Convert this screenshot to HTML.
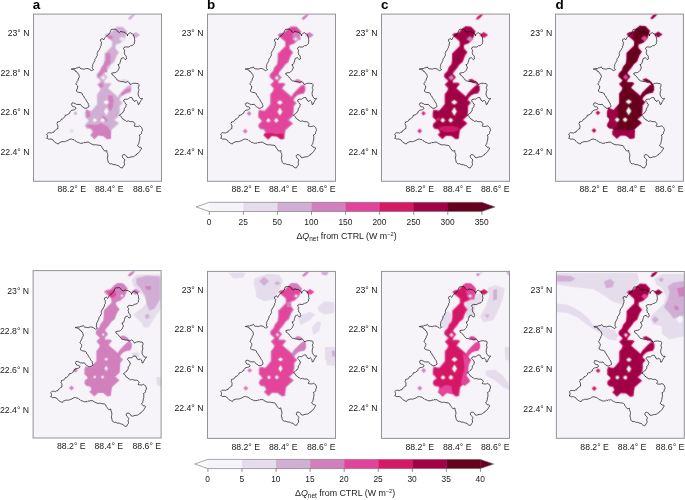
<!DOCTYPE html>
<html><head><meta charset="utf-8"><title>Figure</title>
<style>
html,body{margin:0;padding:0;background:#fff;}
body{width:685px;height:500px;overflow:hidden;}
svg{display:block;}
text{font-family:"Liberation Sans",sans-serif;font-size:8.7px;fill:#1a1a1a;}
.tk{font-size:8.4px;fill:#222;}
.ct{font-size:8.85px;fill:#1a1a1a;}
.pl{font-size:13.4px;font-weight:bold;fill:#000;}
</style></head>
<body>
<svg width="685" height="500" viewBox="0 0 685 500">
<rect width="685" height="500" fill="#fff"/>
<defs><filter id="bl" x="-5%" y="-5%" width="110%" height="110%"><feConvolveMatrix order="3" kernelMatrix="1 2 1 2 18 2 1 2 1" divisor="30" edgeMode="none" preserveAlpha="false"/></filter></defs>
<g transform="translate(33.5,14.1)">
<clipPath id="c00"><rect x="0" y="0" width="128.0" height="167.2"/></clipPath>
<rect x="0" y="0" width="128.0" height="167.2" fill="#f7f4f9"/>
<g clip-path="url(#c00)"><g filter="url(#bl)" transform="translate(-0.1,0.2)">
<path d="M80.4,14.6 L76.9,18.1 L72.8,18.7 L70.5,20.5 L73.4,23.4 L76.3,25.7 L78.1,27.5 L78.1,31.6 L74.6,35.1 L70.5,39.2 L70.5,44.8 L69.9,49.5 L67.0,53.0 L65.8,56.5 L62.9,59.4 L62.3,62.3 L63.8,64.1 L66.4,66.4 L65.8,67.6 L63.1,69.9 L63.8,71.1 L66.4,74.0 L65.8,76.3 L63.1,79.8 L63.1,89.6 L60.3,93.1 L57.7,96.0 L54.8,95.7 L52.1,95.0 L51.1,98.3 L51.1,103.0 L53.6,105.3 L54.5,106.7 L51.5,109.4 L51.1,112.3 L53.1,114.7 L56.8,115.3 L58.3,118.2 L56.0,120.5 L61.0,125.2 L64.7,121.7 L70.0,121.9 L74.1,125.2 L77.6,124.6 L78.2,119.3 L78.8,115.8 L82.3,112.6 L86.3,109.1 L83.7,106.7 L82.0,105.6 L86.3,101.6 L86.9,96.0 L86.9,91.9 L89.8,88.4 L86.8,85.7 L87.4,83.9 L90.3,81.0 L93.3,79.8 L96.8,79.3 L98.5,76.3 L98.5,72.2 L96.8,69.9 L93.9,71.1 L90.3,74.6 L86.3,78.7 L84.4,81.8 L81.6,79.3 L78.1,76.3 L75.5,74.0 L76.3,72.6 L78.7,69.9 L76.9,68.2 L71.7,68.2 L71.7,66.4 L72.8,65.2 L74.8,62.9 L71.7,59.4 L72.8,57.6 L75.8,54.1 L78.1,50.6 L81.6,47.7 L82.5,45.0 L83.9,41.5 L86.3,38.0 L82.8,33.9 L82.8,31.0 L87.4,29.2 L91.5,25.2 L93.3,20.5 L94.4,17.0 L89.8,12.1 L83.9,11.7Z" fill="#e5dcec" fill-rule="evenodd"/>
<path d="M81.0,15.3 L77.3,18.9 L73.2,19.6 L71.9,20.6 L74.0,22.7 L76.9,25.0 L79.0,27.1 L79.0,32.0 L75.2,35.7 L71.4,39.6 L71.4,44.9 L70.8,49.9 L67.8,53.4 L66.6,57.0 L63.7,59.8 L63.3,62.1 L64.4,63.5 L67.5,66.2 L66.5,68.2 L64.3,70.1 L64.5,70.6 L67.4,73.8 L66.6,76.7 L64.0,80.1 L64.0,89.9 L61.0,93.7 L58.1,96.9 L54.6,96.6 L52.7,96.1 L52.0,98.4 L52.0,102.6 L54.3,104.7 L55.7,106.9 L52.3,109.8 L52.0,112.0 L53.6,113.9 L57.4,114.5 L59.4,118.4 L57.3,120.5 L61.0,124.0 L64.4,120.8 L70.3,121.0 L74.3,124.2 L76.8,123.8 L77.3,119.2 L78.0,115.3 L81.7,111.9 L85.0,109.1 L83.1,107.4 L80.5,105.7 L85.4,101.2 L86.0,96.0 L86.0,91.6 L88.6,88.5 L85.8,86.0 L86.6,83.4 L89.8,80.2 L93.1,78.9 L96.2,78.5 L97.6,76.1 L97.6,72.5 L96.5,71.0 L94.4,71.9 L90.9,75.2 L87.0,79.3 L84.6,83.2 L81.0,80.0 L77.5,77.0 L74.4,74.2 L75.6,72.1 L77.4,70.0 L76.5,69.1 L70.8,69.1 L70.8,66.0 L72.1,64.6 L73.6,62.9 L70.6,59.5 L72.1,57.1 L75.1,53.6 L77.4,50.0 L80.8,47.2 L81.7,44.7 L83.1,41.1 L85.2,38.1 L81.9,34.2 L81.9,30.4 L86.9,28.4 L90.7,24.7 L92.4,20.2 L93.4,17.2 L89.4,13.0 L84.2,12.6Z" fill="#d1afd5" fill-rule="evenodd"/>
<path d="M87.2,66.0 L90.0,64.6 L93.0,65.3 L95.0,67.5 L94.6,68.7 L91.5,68.5 L88.5,67.6Z" fill="#e5dcec"/>
<path d="M98.0,20.6 L102.4,17.6 L106.8,20.6 L102.4,23.6Z" fill="#d1afd5"/>
<path d="M39.7,99.0 L42.1,96.6 L44.5,99.0 L42.1,101.4Z" fill="#e5dcec"/>
<path d="M35.7,116.8 L38.2,114.3 L40.7,116.8 L38.2,119.3Z" fill="#e5dcec"/>
<path d="M94.3,4.6 L96.8,1.6 L99.5,0.0 L102.0,0.0 L99.2,3.2 L96.6,5.4Z" fill="#d1afd5"/>
<path d="M40.3,99.0 L42.1,97.2 L43.9,99.0 L42.1,100.8Z" fill="#d1afd5"/>
<path d="M73.6,21.0 L78.8,21.6 L80.0,23.9 L77.1,25.1 L74.2,23.4Z" fill="#d280bd"/>
<path d="M72.4,39.1 L76.5,38.5 L77.3,43.2 L76.8,49.1 L73.6,49.6 L72.4,44.4Z" fill="#d280bd"/>
<path d="M68.3,53.1 L73.0,52.6 L74.2,58.0 L67.7,58.0Z" fill="#d280bd"/>
<path d="M71.8,46.0 L77.1,46.0 L76.8,49.5 L73.0,52.4 L71.2,57.1 L67.7,61.2 L64.8,63.5 L64.0,60.6 L66.6,56.5 L68.9,52.4Z" fill="#d280bd"/>
<path d="M64.8,70.5 L68.9,67.6 L70.3,72.3 L67.1,73.8Z" fill="#d280bd"/>
<path d="M74.7,82.4 L78.0,81.6 L80.0,85.7 L79.6,92.7 L77.3,96.5 L74.7,92.7 L75.9,87.5Z" fill="#d280bd"/>
<path d="M87.6,79.3 L91.1,75.4 L96.9,73.4 L97.5,76.6 L92.3,79.3 L88.8,81.6Z" fill="#d280bd"/>
<path d="M52.8,96.2 L56.1,96.5 L57.2,102.3 L53.5,103.5Z" fill="#d280bd"/>
<path d="M75.0,81.0 L79.3,81.0 L80.2,86.8 L79.0,93.8 L76.6,97.4 L75.0,92.1Z" fill="#d280bd"/>
<path d="M68.2,100.9 L71.7,102.6 L74.7,106.1 L72.0,107.3 L69.4,104.4Z" fill="#d280bd"/>
<path d="M52.5,95.2 L54.8,95.6 L56.0,102.0 L53.1,102.7Z" fill="#d280bd"/>
<path d="M53.1,110.8 L57.7,110.2 L63.6,110.8 L67.1,109.0 L70.6,110.2 L74.7,112.5 L77.6,117.2 L77.6,124.4 L73.5,124.9 L70.0,121.9 L64.7,121.3 L61.2,124.9 L57.1,121.3 L60.1,117.2 L57.7,114.3 L53.6,113.1Z" fill="#d280bd"/>
<path d="M70.0,88.0 L72.9,85.8 L75.8,88.0 L72.9,90.2Z" fill="#f7f4f9"/>
<path d="M70.5,97.2 L72.9,93.3 L75.3,97.2 L72.9,101.1Z" fill="#f7f4f9"/>
<path d="M59.2,105.9 L61.4,103.7 L63.6,105.9 L61.4,108.1Z" fill="#f7f4f9"/>
<path d="M67.0,105.9 L69.3,103.6 L71.6,105.9 L69.3,108.2Z" fill="#f7f4f9"/>
<path d="M85.2,24.6 L88.6,22.0 L92.0,24.6 L88.6,27.2Z" fill="#e5dcec"/>
<path d="M87.1,24.6 L88.6,23.4 L90.1,24.6 L88.6,25.8Z" fill="#f7f4f9"/>
<path d="M67.3,63.4 L69.9,60.8 L72.5,63.4 L69.9,66.0Z" fill="#e5dcec"/>
<path d="M68.6,63.4 L69.9,62.1 L71.2,63.4 L69.9,64.7Z" fill="#f7f4f9"/>
</g>
<path d="M76.8,18.3 L76.9,17.3 L77.3,16.3 L77.7,15.5 L78.5,15.1 L79.8,15.2 L81.2,15.1 L82.3,15.1 L83.1,15.9 L83.7,16.8 L84.3,17.7 L85.1,18.0 L85.8,18.6 L86.5,17.7 L87.6,17.4 L88.4,17.7 L89.3,17.9 L90.6,18.0 L91.7,18.8 L92.5,19.3 L93.2,19.8 L94.0,20.7 L94.0,21.8 L94.3,20.4 L95.2,19.4 L96.0,18.9 L96.9,18.6 L97.7,19.3 L98.7,19.4 L99.7,20.4 L100.2,21.8 L100.8,22.9 L101.0,24.1 L101.1,25.6 L101.4,27.0 L100.8,28.1 L101.0,29.4 L100.1,30.2 L99.3,31.1 L98.3,31.6 L97.1,31.5 L96.3,32.3 L94.9,33.0 L93.4,32.9 L91.9,32.8 L90.5,33.4 L89.9,34.6 L90.6,35.2 L91.1,36.1 L91.1,37.2 L90.5,38.1 L91.1,39.2 L91.1,40.5 L92.1,41.2 L92.8,42.2 L92.7,43.2 L93.2,44.0 L92.7,45.0 L91.7,45.5 L90.9,44.5 L89.9,43.6 L88.7,43.9 L87.6,44.5 L87.4,45.7 L87.0,46.9 L86.7,48.0 L86.4,49.2 L85.6,50.2 L84.3,50.6 L85.1,51.1 L85.2,52.1 L85.8,52.9 L85.8,53.9 L85.1,55.0 L84.7,56.2 L83.8,57.1 L82.9,58.0 L81.8,58.5 L80.6,58.6 L79.4,58.8 L78.2,59.1 L78.5,60.0 L78.8,60.9 L80.1,61.6 L81.2,62.6 L81.9,63.8 L83.0,64.7 L83.7,65.9 L84.7,66.8 L86.2,66.9 L87.6,67.4 L88.6,67.5 L89.6,67.6 L90.6,67.6 L91.3,68.2 L92.3,68.2 L93.3,67.9 L94.1,67.3 L95.1,67.9 L95.8,68.8 L96.4,70.0 L97.6,70.5 L98.1,69.7 L99.0,69.4 L100.3,69.2 L101.7,69.1 L103.1,69.5 L104.6,69.4 L105.5,70.5 L105.5,72.0 L104.8,73.4 L104.9,74.4 L105.5,75.3 L105.2,76.4 L104.8,77.8 L104.6,79.3 L104.7,80.8 L105.2,82.2 L105.9,83.3 L106.7,84.3 L107.9,84.6 L109.0,84.3 L108.7,85.1 L108.1,85.7 L107.4,86.5 L106.9,87.5 L106.2,88.8 L105.7,90.1 L104.6,90.4 L104.4,88.9 L104.0,87.5 L103.4,86.9 L102.8,86.3 L101.8,86.7 L101.1,87.5 L100.7,86.6 L99.7,86.3 L99.1,85.0 L98.5,83.6 L97.0,83.4 L96.0,83.7 L95.2,84.3 L94.2,85.1 L92.9,85.1 L91.7,85.1 L90.6,85.5 L90.0,86.9 L90.8,87.8 L91.7,88.6 L92.0,89.8 L93.1,90.4 L92.4,91.5 L92.3,92.7 L91.6,93.7 L90.6,94.5 L90.7,95.7 L90.6,96.8 L89.7,97.5 L89.3,98.6 L88.2,99.1 L87.5,99.8 L86.9,100.7 L85.9,101.2 L86.9,101.7 L87.7,102.5 L88.2,103.5 L88.8,104.5 L90.0,104.9 L90.6,105.9 L91.9,106.4 L92.9,107.3 L94.0,107.0 L95.2,106.8 L96.3,107.5 L97.6,107.6 L99.1,107.5 L100.5,108.2 L101.1,109.0 L101.7,109.9 L101.1,110.8 L100.5,111.7 L101.6,112.3 L102.8,112.3 L103.9,112.4 L104.9,112.2 L105.8,111.7 L107.1,112.4 L108.1,113.4 L108.5,114.4 L108.8,115.4 L109.0,116.4 L108.4,117.3 L108.0,118.2 L108.1,119.3 L107.1,120.4 L105.8,121.0 L106.3,122.1 L106.3,123.4 L106.3,124.9 L105.8,126.3 L105.8,127.5 L105.4,128.6 L105.2,129.8 L104.5,130.6 L104.0,131.5 L105.1,132.2 L105.8,133.3 L107.1,133.2 L108.1,133.9 L107.6,135.1 L106.9,136.2 L106.1,137.5 L105.2,138.6 L104.4,139.3 L103.3,139.8 L102.8,140.9 L101.7,141.3 L100.9,142.0 L99.9,142.6 L98.7,142.7 L97.5,142.8 L96.4,143.2 L94.9,143.6 L93.5,143.2 L92.9,141.8 L91.7,140.9 L90.6,140.5 L89.4,140.7 L88.8,141.5 L88.8,142.6 L89.0,143.4 L89.7,144.0 L90.6,144.8 L91.3,145.8 L91.0,147.0 L90.5,148.1 L91.0,149.5 L90.8,151.0 L89.9,152.1 L89.3,153.4 L88.5,153.9 L87.6,153.6 L86.6,153.2 L85.8,152.5 L85.2,151.6 L83.9,151.5 L82.8,151.0 L81.7,150.5 L80.4,150.6 L79.3,150.3 L78.2,149.6 L76.9,149.8 L75.7,149.3 L74.8,148.3 L74.5,146.9 L74.2,145.6 L73.8,144.3 L74.1,142.9 L74.4,141.7 L74.2,140.6 L74.1,139.4 L73.5,138.5 L73.4,137.5 L73.3,136.4 L72.3,136.8 L71.2,137.0 L70.3,135.9 L69.5,134.7 L68.6,133.7 L68.3,132.4 L67.5,131.7 L66.5,131.2 L65.4,131.2 L64.2,131.0 L63.1,130.8 L61.9,130.6 L60.7,130.8 L59.5,130.6 L58.4,130.0 L57.4,129.6 L56.4,129.0 L55.5,128.3 L54.5,127.9 L53.5,128.3 L52.5,127.9 L51.7,128.7 L50.4,128.3 L49.6,129.1 L48.4,129.0 L47.2,129.3 L46.1,128.9 L45.0,128.3 L43.6,128.1 L42.6,127.1 L41.4,126.5 L40.5,125.6 L39.1,125.4 L37.9,124.9 L36.7,125.1 L35.5,125.5 L34.5,126.4 L33.2,126.8 L32.1,127.2 L30.9,127.6 L29.7,127.5 L28.5,127.5 L27.4,128.0 L26.2,128.3 L25.4,128.9 L25.1,129.8 L23.8,129.5 L22.7,128.9 L21.4,128.2 L20.4,127.1 L19.7,126.0 L18.6,125.4 L17.5,124.9 L16.3,124.9 L15.1,125.1 L14.2,124.4 L13.1,124.2 L13.8,123.2 L14.0,121.9 L13.7,120.9 L13.1,120.1 L14.0,119.2 L15.1,118.6 L16.1,118.7 L17.1,118.7 L18.1,119.0 L19.1,118.2 L20.4,118.1 L20.9,116.8 L22.1,116.0 L23.2,115.0 L24.5,114.3 L24.3,113.2 L24.5,112.0 L24.1,110.7 L23.3,109.6 L24.0,108.9 L23.9,107.9 L25.0,107.6 L26.2,107.3 L27.4,106.3 L28.0,104.9 L29.3,104.7 L30.3,103.8 L31.3,102.8 L31.5,101.4 L32.6,101.0 L33.8,100.9 L34.4,100.1 L35.3,99.5 L36.2,99.1 L36.5,97.8 L37.3,96.8 L38.4,96.1 L39.7,95.9 L40.9,95.6 L42.0,95.0 L42.4,94.2 L42.0,93.3 L41.1,92.7 L40.1,92.7 L39.1,92.4 L38.5,91.3 L37.7,90.3 L38.3,89.7 L38.5,88.9 L40.0,88.8 L41.4,89.4 L42.3,89.8 L43.2,90.4 L44.3,90.3 L45.5,90.5 L46.7,90.1 L47.4,91.2 L48.4,92.1 L49.2,92.8 L50.2,93.2 L50.8,94.1 L52.3,94.2 L53.7,93.8 L54.5,93.1 L55.4,92.7 L55.4,91.4 L54.8,90.3 L54.6,89.0 L53.7,88.0 L53.0,86.9 L52.5,85.7 L51.6,84.6 L50.8,83.3 L50.2,81.9 L49.0,81.0 L48.8,79.5 L47.7,78.8 L46.5,78.4 L45.2,78.3 L44.1,77.9 L43.0,77.2 L43.0,76.0 L43.6,74.9 L44.1,74.0 L44.2,72.9 L44.1,71.9 L43.0,70.9 L42.4,69.6 L43.3,68.6 L43.6,67.3 L44.5,66.3 L44.7,64.9 L45.4,63.8 L45.9,62.6 L45.5,61.5 L45.3,60.3 L44.6,59.3 L43.5,58.6 L43.0,57.4 L41.8,57.2 L41.3,55.8 L40.1,55.6 L38.9,55.2 L37.7,55.0 L39.2,54.7 L40.6,54.4 L41.7,54.6 L42.6,53.9 L43.6,53.8 L44.8,53.5 L45.7,52.7 L46.4,53.9 L47.6,54.8 L48.6,54.7 L49.6,54.8 L50.6,55.2 L51.7,54.6 L52.9,54.4 L54.4,54.5 L55.8,55.0 L56.6,55.7 L57.5,56.0 L58.2,56.8 L59.1,56.1 L60.1,55.6 L59.1,54.6 L58.7,53.3 L59.3,52.4 L59.0,51.3 L59.3,50.3 L59.8,49.3 L60.4,48.4 L60.8,47.4 L61.4,46.5 L61.3,45.4 L61.7,44.5 L62.8,43.5 L63.2,42.2 L64.0,41.0 L63.8,40.1 L63.6,39.3 L64.2,38.3 L64.4,37.1 L65.4,36.4 L65.9,35.4 L66.3,34.3 L67.1,33.4 L66.9,32.2 L67.8,31.1 L67.7,29.9 L67.7,29.0 L68.3,28.2 L67.5,27.6 L66.8,27.0 L67.1,26.2 L67.1,25.3 L68.0,24.9 L68.9,24.5 L69.6,25.1 L70.1,25.9 L70.8,24.7 L71.5,23.5 L72.3,22.7 L73.0,21.8 L74.3,21.2 L75.3,20.2 L75.8,19.0Z" fill="none" stroke="#000" stroke-width="0.66" stroke-linejoin="round"/>
</g>
<rect x="0" y="0" width="128.0" height="167.2" fill="none" stroke="#939297" stroke-width="1.0"/>
</g>
<text x="29.5" y="36.0" text-anchor="end">23° N</text>
<text x="29.5" y="75.6" text-anchor="end">22.8° N</text>
<text x="29.5" y="115.2" text-anchor="end">22.6° N</text>
<text x="29.5" y="154.6" text-anchor="end">22.4° N</text>
<text x="86.0" y="191.7" text-anchor="end">88.2° E</text>
<text x="123.5" y="191.7" text-anchor="end">88.4° E</text>
<text x="161.5" y="191.7" text-anchor="end">88.6° E</text>
<g transform="translate(207.5,14.1)">
<clipPath id="c10"><rect x="0" y="0" width="128.0" height="167.2"/></clipPath>
<rect x="0" y="0" width="128.0" height="167.2" fill="#f7f4f9"/>
<g clip-path="url(#c10)"><g filter="url(#bl)" transform="translate(-0.5,0.4)">
<path d="M80.4,14.6 L76.9,18.1 L72.8,18.7 L70.5,20.5 L73.4,23.4 L76.3,25.7 L78.1,27.5 L78.1,31.6 L74.6,35.1 L70.5,39.2 L70.5,44.8 L69.9,49.5 L67.0,53.0 L65.8,56.5 L62.9,59.4 L62.3,62.3 L63.8,64.1 L66.4,66.4 L65.8,67.6 L63.1,69.9 L63.8,71.1 L66.4,74.0 L65.8,76.3 L63.1,79.8 L63.1,89.6 L60.3,93.1 L57.7,96.0 L54.8,95.7 L52.1,95.0 L51.1,98.3 L51.1,103.0 L53.6,105.3 L54.5,106.7 L51.5,109.4 L51.1,112.3 L53.1,114.7 L56.8,115.3 L58.3,118.2 L56.0,120.5 L61.0,125.2 L64.7,121.7 L70.0,121.9 L74.1,125.2 L77.6,124.6 L78.2,119.3 L78.8,115.8 L82.3,112.6 L86.3,109.1 L83.7,106.7 L82.0,105.6 L86.3,101.6 L86.9,96.0 L86.9,91.9 L89.8,88.4 L86.8,85.7 L87.4,83.9 L90.3,81.0 L93.3,79.8 L96.8,79.3 L98.5,76.3 L98.5,72.2 L96.8,69.9 L93.9,71.1 L90.3,74.6 L86.3,78.7 L84.4,81.8 L81.6,79.3 L78.1,76.3 L75.5,74.0 L76.3,72.6 L78.7,69.9 L76.9,68.2 L71.7,68.2 L71.7,66.4 L72.8,65.2 L74.8,62.9 L71.7,59.4 L72.8,57.6 L75.8,54.1 L78.1,50.6 L81.6,47.7 L82.5,45.0 L83.9,41.5 L86.3,38.0 L82.8,33.9 L82.8,31.0 L87.4,29.2 L91.5,25.2 L93.3,20.5 L94.4,17.0 L89.8,12.1 L83.9,11.7Z" fill="#d280bd" fill-rule="evenodd"/>
<path d="M81.0,15.3 L77.3,19.0 L73.2,19.6 L71.9,20.6 L74.0,22.7 L76.9,25.0 L79.0,27.1 L79.0,32.0 L75.3,35.8 L71.5,39.6 L71.5,44.9 L70.8,49.9 L67.8,53.5 L66.6,57.0 L63.8,59.9 L63.3,62.0 L64.5,63.4 L67.6,66.2 L66.6,68.2 L64.3,70.1 L64.6,70.5 L67.4,73.7 L66.7,76.7 L64.0,80.1 L64.0,89.9 L61.0,93.7 L58.1,97.0 L54.6,96.6 L52.7,96.1 L52.1,98.4 L52.1,102.6 L54.3,104.7 L55.7,106.9 L52.4,109.9 L52.1,112.0 L53.6,113.8 L57.4,114.4 L59.5,118.4 L57.4,120.5 L61.0,123.9 L64.3,120.7 L70.4,121.0 L74.4,124.2 L76.7,123.8 L77.3,119.2 L77.9,115.3 L81.7,111.9 L84.9,109.1 L83.1,107.5 L80.5,105.7 L85.4,101.1 L86.0,95.9 L86.0,91.6 L88.5,88.5 L85.8,86.0 L86.6,83.4 L89.8,80.2 L93.1,78.9 L96.2,78.4 L97.5,76.0 L97.5,72.5 L96.5,71.1 L94.4,71.9 L91.0,75.3 L87.1,79.3 L84.6,83.2 L81.0,80.0 L77.5,77.0 L74.3,74.2 L75.5,72.0 L77.4,70.0 L76.5,69.2 L70.8,69.2 L70.8,66.0 L72.1,64.6 L73.5,62.9 L70.5,59.5 L72.0,57.0 L75.0,53.5 L77.4,50.0 L80.8,47.1 L81.6,44.7 L83.1,41.0 L85.1,38.1 L81.8,34.3 L81.8,30.4 L86.9,28.4 L90.7,24.7 L92.4,20.2 L93.3,17.2 L89.4,13.0 L84.2,12.7Z" fill="#e3449b" fill-rule="evenodd"/>
<path d="M87.2,66.0 L90.0,64.6 L93.0,65.3 L95.0,67.5 L94.6,68.7 L91.5,68.5 L88.5,67.6Z" fill="#d280bd"/>
<path d="M98.0,20.6 L102.4,17.6 L106.8,20.6 L102.4,23.6Z" fill="#d280bd"/>
<path d="M39.7,99.0 L42.1,96.6 L44.5,99.0 L42.1,101.4Z" fill="#d280bd"/>
<path d="M35.7,116.8 L38.2,114.3 L40.7,116.8 L38.2,119.3Z" fill="#d280bd"/>
<path d="M94.3,4.6 L96.8,1.6 L99.5,0.0 L102.0,0.0 L99.2,3.2 L96.6,5.4Z" fill="#d280bd"/>
<path d="M86.0,17.1 L92.2,18.1 L93.9,25.1 L88.8,26.4 L85.4,22.3Z" fill="#d280bd"/>
<path d="M57.1,119.0 L63.6,118.6 L69.4,119.5 L76.4,119.0 L77.0,124.2 L73.5,124.8 L70.0,121.9 L64.7,121.6 L61.2,124.9 L57.1,121.3Z" fill="#d51965"/>
<path d="M70.0,88.0 L72.9,85.8 L75.8,88.0 L72.9,90.2Z" fill="#f7f4f9"/>
<path d="M70.5,97.2 L72.9,93.3 L75.3,97.2 L72.9,101.1Z" fill="#f7f4f9"/>
<path d="M59.2,105.9 L61.4,103.7 L63.6,105.9 L61.4,108.1Z" fill="#f7f4f9"/>
<path d="M67.0,105.9 L69.3,103.6 L71.6,105.9 L69.3,108.2Z" fill="#f7f4f9"/>
<path d="M85.2,24.6 L88.6,22.0 L92.0,24.6 L88.6,27.2Z" fill="#d1afd5"/>
<path d="M87.1,24.6 L88.6,23.4 L90.1,24.6 L88.6,25.8Z" fill="#f7f4f9"/>
<path d="M67.3,63.4 L69.9,60.8 L72.5,63.4 L69.9,66.0Z" fill="#d1afd5"/>
<path d="M68.6,63.4 L69.9,62.1 L71.2,63.4 L69.9,64.7Z" fill="#f7f4f9"/>
</g>
<path d="M76.8,18.3 L76.9,17.3 L77.3,16.3 L77.7,15.5 L78.5,15.1 L79.8,15.2 L81.2,15.1 L82.3,15.1 L83.1,15.9 L83.7,16.8 L84.3,17.7 L85.1,18.0 L85.8,18.6 L86.5,17.7 L87.6,17.4 L88.4,17.7 L89.3,17.9 L90.6,18.0 L91.7,18.8 L92.5,19.3 L93.2,19.8 L94.0,20.7 L94.0,21.8 L94.3,20.4 L95.2,19.4 L96.0,18.9 L96.9,18.6 L97.7,19.3 L98.7,19.4 L99.7,20.4 L100.2,21.8 L100.8,22.9 L101.0,24.1 L101.1,25.6 L101.4,27.0 L100.8,28.1 L101.0,29.4 L100.1,30.2 L99.3,31.1 L98.3,31.6 L97.1,31.5 L96.3,32.3 L94.9,33.0 L93.4,32.9 L91.9,32.8 L90.5,33.4 L89.9,34.6 L90.6,35.2 L91.1,36.1 L91.1,37.2 L90.5,38.1 L91.1,39.2 L91.1,40.5 L92.1,41.2 L92.8,42.2 L92.7,43.2 L93.2,44.0 L92.7,45.0 L91.7,45.5 L90.9,44.5 L89.9,43.6 L88.7,43.9 L87.6,44.5 L87.4,45.7 L87.0,46.9 L86.7,48.0 L86.4,49.2 L85.6,50.2 L84.3,50.6 L85.1,51.1 L85.2,52.1 L85.8,52.9 L85.8,53.9 L85.1,55.0 L84.7,56.2 L83.8,57.1 L82.9,58.0 L81.8,58.5 L80.6,58.6 L79.4,58.8 L78.2,59.1 L78.5,60.0 L78.8,60.9 L80.1,61.6 L81.2,62.6 L81.9,63.8 L83.0,64.7 L83.7,65.9 L84.7,66.8 L86.2,66.9 L87.6,67.4 L88.6,67.5 L89.6,67.6 L90.6,67.6 L91.3,68.2 L92.3,68.2 L93.3,67.9 L94.1,67.3 L95.1,67.9 L95.8,68.8 L96.4,70.0 L97.6,70.5 L98.1,69.7 L99.0,69.4 L100.3,69.2 L101.7,69.1 L103.1,69.5 L104.6,69.4 L105.5,70.5 L105.5,72.0 L104.8,73.4 L104.9,74.4 L105.5,75.3 L105.2,76.4 L104.8,77.8 L104.6,79.3 L104.7,80.8 L105.2,82.2 L105.9,83.3 L106.7,84.3 L107.9,84.6 L109.0,84.3 L108.7,85.1 L108.1,85.7 L107.4,86.5 L106.9,87.5 L106.2,88.8 L105.7,90.1 L104.6,90.4 L104.4,88.9 L104.0,87.5 L103.4,86.9 L102.8,86.3 L101.8,86.7 L101.1,87.5 L100.7,86.6 L99.7,86.3 L99.1,85.0 L98.5,83.6 L97.0,83.4 L96.0,83.7 L95.2,84.3 L94.2,85.1 L92.9,85.1 L91.7,85.1 L90.6,85.5 L90.0,86.9 L90.8,87.8 L91.7,88.6 L92.0,89.8 L93.1,90.4 L92.4,91.5 L92.3,92.7 L91.6,93.7 L90.6,94.5 L90.7,95.7 L90.6,96.8 L89.7,97.5 L89.3,98.6 L88.2,99.1 L87.5,99.8 L86.9,100.7 L85.9,101.2 L86.9,101.7 L87.7,102.5 L88.2,103.5 L88.8,104.5 L90.0,104.9 L90.6,105.9 L91.9,106.4 L92.9,107.3 L94.0,107.0 L95.2,106.8 L96.3,107.5 L97.6,107.6 L99.1,107.5 L100.5,108.2 L101.1,109.0 L101.7,109.9 L101.1,110.8 L100.5,111.7 L101.6,112.3 L102.8,112.3 L103.9,112.4 L104.9,112.2 L105.8,111.7 L107.1,112.4 L108.1,113.4 L108.5,114.4 L108.8,115.4 L109.0,116.4 L108.4,117.3 L108.0,118.2 L108.1,119.3 L107.1,120.4 L105.8,121.0 L106.3,122.1 L106.3,123.4 L106.3,124.9 L105.8,126.3 L105.8,127.5 L105.4,128.6 L105.2,129.8 L104.5,130.6 L104.0,131.5 L105.1,132.2 L105.8,133.3 L107.1,133.2 L108.1,133.9 L107.6,135.1 L106.9,136.2 L106.1,137.5 L105.2,138.6 L104.4,139.3 L103.3,139.8 L102.8,140.9 L101.7,141.3 L100.9,142.0 L99.9,142.6 L98.7,142.7 L97.5,142.8 L96.4,143.2 L94.9,143.6 L93.5,143.2 L92.9,141.8 L91.7,140.9 L90.6,140.5 L89.4,140.7 L88.8,141.5 L88.8,142.6 L89.0,143.4 L89.7,144.0 L90.6,144.8 L91.3,145.8 L91.0,147.0 L90.5,148.1 L91.0,149.5 L90.8,151.0 L89.9,152.1 L89.3,153.4 L88.5,153.9 L87.6,153.6 L86.6,153.2 L85.8,152.5 L85.2,151.6 L83.9,151.5 L82.8,151.0 L81.7,150.5 L80.4,150.6 L79.3,150.3 L78.2,149.6 L76.9,149.8 L75.7,149.3 L74.8,148.3 L74.5,146.9 L74.2,145.6 L73.8,144.3 L74.1,142.9 L74.4,141.7 L74.2,140.6 L74.1,139.4 L73.5,138.5 L73.4,137.5 L73.3,136.4 L72.3,136.8 L71.2,137.0 L70.3,135.9 L69.5,134.7 L68.6,133.7 L68.3,132.4 L67.5,131.7 L66.5,131.2 L65.4,131.2 L64.2,131.0 L63.1,130.8 L61.9,130.6 L60.7,130.8 L59.5,130.6 L58.4,130.0 L57.4,129.6 L56.4,129.0 L55.5,128.3 L54.5,127.9 L53.5,128.3 L52.5,127.9 L51.7,128.7 L50.4,128.3 L49.6,129.1 L48.4,129.0 L47.2,129.3 L46.1,128.9 L45.0,128.3 L43.6,128.1 L42.6,127.1 L41.4,126.5 L40.5,125.6 L39.1,125.4 L37.9,124.9 L36.7,125.1 L35.5,125.5 L34.5,126.4 L33.2,126.8 L32.1,127.2 L30.9,127.6 L29.7,127.5 L28.5,127.5 L27.4,128.0 L26.2,128.3 L25.4,128.9 L25.1,129.8 L23.8,129.5 L22.7,128.9 L21.4,128.2 L20.4,127.1 L19.7,126.0 L18.6,125.4 L17.5,124.9 L16.3,124.9 L15.1,125.1 L14.2,124.4 L13.1,124.2 L13.8,123.2 L14.0,121.9 L13.7,120.9 L13.1,120.1 L14.0,119.2 L15.1,118.6 L16.1,118.7 L17.1,118.7 L18.1,119.0 L19.1,118.2 L20.4,118.1 L20.9,116.8 L22.1,116.0 L23.2,115.0 L24.5,114.3 L24.3,113.2 L24.5,112.0 L24.1,110.7 L23.3,109.6 L24.0,108.9 L23.9,107.9 L25.0,107.6 L26.2,107.3 L27.4,106.3 L28.0,104.9 L29.3,104.7 L30.3,103.8 L31.3,102.8 L31.5,101.4 L32.6,101.0 L33.8,100.9 L34.4,100.1 L35.3,99.5 L36.2,99.1 L36.5,97.8 L37.3,96.8 L38.4,96.1 L39.7,95.9 L40.9,95.6 L42.0,95.0 L42.4,94.2 L42.0,93.3 L41.1,92.7 L40.1,92.7 L39.1,92.4 L38.5,91.3 L37.7,90.3 L38.3,89.7 L38.5,88.9 L40.0,88.8 L41.4,89.4 L42.3,89.8 L43.2,90.4 L44.3,90.3 L45.5,90.5 L46.7,90.1 L47.4,91.2 L48.4,92.1 L49.2,92.8 L50.2,93.2 L50.8,94.1 L52.3,94.2 L53.7,93.8 L54.5,93.1 L55.4,92.7 L55.4,91.4 L54.8,90.3 L54.6,89.0 L53.7,88.0 L53.0,86.9 L52.5,85.7 L51.6,84.6 L50.8,83.3 L50.2,81.9 L49.0,81.0 L48.8,79.5 L47.7,78.8 L46.5,78.4 L45.2,78.3 L44.1,77.9 L43.0,77.2 L43.0,76.0 L43.6,74.9 L44.1,74.0 L44.2,72.9 L44.1,71.9 L43.0,70.9 L42.4,69.6 L43.3,68.6 L43.6,67.3 L44.5,66.3 L44.7,64.9 L45.4,63.8 L45.9,62.6 L45.5,61.5 L45.3,60.3 L44.6,59.3 L43.5,58.6 L43.0,57.4 L41.8,57.2 L41.3,55.8 L40.1,55.6 L38.9,55.2 L37.7,55.0 L39.2,54.7 L40.6,54.4 L41.7,54.6 L42.6,53.9 L43.6,53.8 L44.8,53.5 L45.7,52.7 L46.4,53.9 L47.6,54.8 L48.6,54.7 L49.6,54.8 L50.6,55.2 L51.7,54.6 L52.9,54.4 L54.4,54.5 L55.8,55.0 L56.6,55.7 L57.5,56.0 L58.2,56.8 L59.1,56.1 L60.1,55.6 L59.1,54.6 L58.7,53.3 L59.3,52.4 L59.0,51.3 L59.3,50.3 L59.8,49.3 L60.4,48.4 L60.8,47.4 L61.4,46.5 L61.3,45.4 L61.7,44.5 L62.8,43.5 L63.2,42.2 L64.0,41.0 L63.8,40.1 L63.6,39.3 L64.2,38.3 L64.4,37.1 L65.4,36.4 L65.9,35.4 L66.3,34.3 L67.1,33.4 L66.9,32.2 L67.8,31.1 L67.7,29.9 L67.7,29.0 L68.3,28.2 L67.5,27.6 L66.8,27.0 L67.1,26.2 L67.1,25.3 L68.0,24.9 L68.9,24.5 L69.6,25.1 L70.1,25.9 L70.8,24.7 L71.5,23.5 L72.3,22.7 L73.0,21.8 L74.3,21.2 L75.3,20.2 L75.8,19.0Z" fill="none" stroke="#000" stroke-width="0.66" stroke-linejoin="round"/>
</g>
<rect x="0" y="0" width="128.0" height="167.2" fill="none" stroke="#939297" stroke-width="1.0"/>
</g>
<text x="203.5" y="36.0" text-anchor="end">23° N</text>
<text x="203.5" y="75.6" text-anchor="end">22.8° N</text>
<text x="203.5" y="115.2" text-anchor="end">22.6° N</text>
<text x="203.5" y="154.6" text-anchor="end">22.4° N</text>
<text x="260.0" y="191.7" text-anchor="end">88.2° E</text>
<text x="297.5" y="191.7" text-anchor="end">88.4° E</text>
<text x="335.5" y="191.7" text-anchor="end">88.6° E</text>
<g transform="translate(381.5,14.1)">
<clipPath id="c20"><rect x="0" y="0" width="128.0" height="167.2"/></clipPath>
<rect x="0" y="0" width="128.0" height="167.2" fill="#f7f4f9"/>
<g clip-path="url(#c20)"><g filter="url(#bl)" transform="translate(-0.1,0.2)">
<path d="M87.4,67.0 L90.3,68.2 L93.3,68.9 L95.4,70.5 L93.9,71.1 L90.3,74.6 L86.3,78.7 L84.4,81.8 L81.6,79.3 L78.1,76.3 L75.5,74.0 L76.3,72.6 L78.7,69.9 L76.9,68.2 L71.7,68.2 L71.7,66.4 L72.8,65.2 L74.8,62.9 L71.7,59.4 L72.8,57.6 L75.8,54.1 L78.1,50.6 L81.6,47.7 L82.5,45.0 L83.9,41.5 L86.3,38.0 L82.8,33.9 L82.8,31.0 L87.4,29.2 L91.5,25.2 L93.3,20.5 L94.4,17.0 L89.8,12.1 L83.9,11.7 L80.4,14.6 L76.9,18.1 L72.8,18.7 L70.5,20.5 L73.4,23.4 L76.3,25.7 L78.1,27.5 L78.1,31.6 L74.6,35.1 L70.5,39.2 L70.5,44.8 L69.9,49.5 L67.0,53.0 L65.8,56.5 L62.9,59.4 L62.3,62.3 L63.8,64.1 L66.4,66.4 L65.8,67.6 L63.1,69.9 L63.8,71.1 L66.4,74.0 L65.8,76.3 L63.1,79.8 L63.1,89.6 L60.3,93.1 L57.7,96.0 L54.8,95.7 L52.1,95.0 L51.1,98.3 L51.1,103.0 L53.6,105.3 L54.5,106.7 L51.5,109.4 L51.1,112.3 L53.1,114.7 L56.8,115.3 L58.3,118.2 L56.0,120.5 L61.0,125.2 L64.7,121.7 L70.0,121.9 L74.1,125.2 L77.6,124.6 L78.2,119.3 L78.8,115.8 L82.3,112.6 L86.3,109.1 L83.7,106.7 L82.0,105.6 L86.3,101.6 L86.9,96.0 L86.9,91.9 L89.8,88.4 L86.8,85.7 L87.4,83.9 L90.3,81.0 L93.3,79.8 L96.8,79.3 L98.5,76.3 L98.5,72.2 L96.9,70.1 L96.8,69.6 L93.9,66.4 L90.3,64.4 L86.8,65.2Z" fill="#d280bd" fill-rule="evenodd"/>
<path d="M87.7,66.7 L90.4,67.9 L93.4,68.6 L96.0,70.6 L94.1,71.4 L90.5,74.8 L86.6,78.9 L84.4,82.3 L81.4,79.6 L77.9,76.6 L75.1,74.1 L76.0,72.4 L78.2,69.9 L76.8,68.5 L71.4,68.5 L71.4,66.3 L72.5,65.0 L74.4,62.9 L71.3,59.4 L72.5,57.4 L75.5,53.9 L77.8,50.4 L81.3,47.5 L82.2,44.9 L83.6,41.3 L85.9,38.0 L82.5,34.0 L82.5,30.8 L87.2,28.9 L91.2,25.0 L93.0,20.4 L94.0,17.1 L89.6,12.4 L84.0,12.0 L80.6,14.8 L77.1,18.4 L72.9,19.0 L71.0,20.5 L73.6,23.1 L76.5,25.4 L78.4,27.4 L78.4,31.7 L74.8,35.3 L70.8,39.3 L70.8,44.8 L70.2,49.6 L67.3,53.2 L66.1,56.7 L63.2,59.6 L62.7,62.2 L64.0,63.9 L66.8,66.3 L66.1,67.8 L63.5,70.0 L64.1,70.9 L66.8,73.9 L66.1,76.5 L63.4,79.9 L63.4,89.7 L60.6,93.3 L57.8,96.4 L54.7,96.0 L52.3,95.4 L51.4,98.4 L51.4,102.9 L53.9,105.1 L54.9,106.8 L51.8,109.6 L51.5,112.2 L53.3,114.4 L57.0,115.0 L58.7,118.3 L56.5,120.5 L61.0,124.7 L64.6,121.4 L70.1,121.6 L74.2,124.8 L77.3,124.3 L77.9,119.3 L78.5,115.6 L82.1,112.3 L85.8,109.1 L83.5,107.0 L81.5,105.6 L86.0,101.4 L86.6,96.0 L86.6,91.8 L89.3,88.4 L86.5,85.9 L87.1,83.7 L90.1,80.7 L93.2,79.5 L96.6,79.0 L98.2,76.2 L98.2,72.3 L96.6,70.2 L96.5,69.8 L93.7,66.7 L90.2,64.8 L87.2,65.4Z" fill="#d51965" fill-rule="evenodd"/>
<path d="M88.0,66.4 L90.5,67.5 L93.6,68.2 L96.2,70.2 L96.1,70.0 L93.4,67.0 L90.2,65.2 L87.8,65.7ZM96.5,70.8 L94.3,71.7 L90.8,75.1 L86.9,79.2 L84.5,82.9 L81.1,79.9 L77.6,76.9 L74.5,74.2 L75.7,72.2 L77.7,69.9 L76.6,69.0 L71.0,69.0 L71.0,66.1 L72.2,64.7 L73.8,62.9 L70.8,59.5 L72.2,57.2 L75.2,53.6 L77.5,50.1 L81.0,47.3 L81.8,44.7 L83.2,41.1 L85.4,38.0 L82.0,34.2 L82.0,30.5 L87.0,28.6 L90.9,24.8 L92.6,20.3 L93.6,17.2 L89.5,12.8 L84.1,12.5 L80.9,15.2 L77.3,18.8 L73.1,19.4 L71.6,20.6 L73.9,22.8 L76.8,25.1 L78.8,27.2 L78.8,31.9 L75.1,35.6 L71.2,39.5 L71.2,44.8 L70.6,49.8 L67.7,53.4 L66.5,56.9 L63.6,59.8 L63.1,62.1 L64.3,63.6 L67.3,66.2 L66.4,68.1 L64.1,70.1 L64.4,70.7 L67.2,73.8 L66.5,76.6 L63.9,80.1 L63.9,89.9 L60.9,93.6 L58.0,96.8 L54.7,96.4 L52.6,95.9 L51.9,98.4 L51.9,102.7 L54.2,104.8 L55.5,106.8 L52.2,109.8 L51.9,112.1 L53.5,114.0 L57.3,114.6 L59.2,118.3 L57.1,120.5 L61.0,124.2 L64.4,120.9 L70.3,121.2 L74.3,124.4 L76.9,124.0 L77.5,119.2 L78.1,115.4 L81.8,112.0 L85.2,109.1 L83.2,107.3 L80.8,105.7 L85.6,101.2 L86.2,96.0 L86.2,91.6 L88.8,88.5 L86.0,86.0 L86.7,83.5 L89.9,80.4 L93.1,79.1 L96.3,78.6 L97.8,76.1 L97.8,72.4Z" fill="#a10346" fill-rule="evenodd"/>
<path d="M98.0,20.6 L102.4,17.6 L106.8,20.6 L102.4,23.6Z" fill="#d51965"/>
<path d="M39.7,99.0 L42.1,96.6 L44.5,99.0 L42.1,101.4Z" fill="#e3449b"/>
<path d="M35.7,116.8 L38.2,114.3 L40.7,116.8 L38.2,119.3Z" fill="#e3449b"/>
<path d="M100.6,20.4 L102.6,19.0 L104.6,20.4 L102.6,21.8Z" fill="#d51965"/>
<path d="M40.9,99.0 L42.1,97.8 L43.3,99.0 L42.1,100.2Z" fill="#d51965"/>
<path d="M37.0,116.8 L38.2,115.6 L39.4,116.8 L38.2,118.0Z" fill="#d51965"/>
<path d="M94.3,4.6 L96.8,1.6 L99.5,0.0 L102.0,0.0 L99.2,3.2 L96.6,5.4Z" fill="#d51965"/>
<path d="M57.7,113.1 L63.6,111.6 L71.7,111.9 L77.6,113.7 L77.0,116.0 L70.6,117.8 L63.6,117.8 L58.9,116.0Z" fill="#d51965"/>
<path d="M54.8,103.8 L58.3,103.2 L58.9,106.1 L55.4,106.5Z" fill="#d51965"/>
<path d="M70.0,88.0 L72.9,85.8 L75.8,88.0 L72.9,90.2Z" fill="#f7f4f9"/>
<path d="M70.5,97.2 L72.9,93.3 L75.3,97.2 L72.9,101.1Z" fill="#f7f4f9"/>
<path d="M59.2,105.9 L61.4,103.7 L63.6,105.9 L61.4,108.1Z" fill="#f7f4f9"/>
<path d="M67.0,105.9 L69.3,103.6 L71.6,105.9 L69.3,108.2Z" fill="#f7f4f9"/>
<path d="M85.2,24.6 L88.6,22.0 L92.0,24.6 L88.6,27.2Z" fill="#d280bd"/>
<path d="M67.3,63.4 L69.9,60.8 L72.5,63.4 L69.9,66.0Z" fill="#d280bd"/>
</g>
<path d="M76.8,18.3 L76.9,17.3 L77.3,16.3 L77.7,15.5 L78.5,15.1 L79.8,15.2 L81.2,15.1 L82.3,15.1 L83.1,15.9 L83.7,16.8 L84.3,17.7 L85.1,18.0 L85.8,18.6 L86.5,17.7 L87.6,17.4 L88.4,17.7 L89.3,17.9 L90.6,18.0 L91.7,18.8 L92.5,19.3 L93.2,19.8 L94.0,20.7 L94.0,21.8 L94.3,20.4 L95.2,19.4 L96.0,18.9 L96.9,18.6 L97.7,19.3 L98.7,19.4 L99.7,20.4 L100.2,21.8 L100.8,22.9 L101.0,24.1 L101.1,25.6 L101.4,27.0 L100.8,28.1 L101.0,29.4 L100.1,30.2 L99.3,31.1 L98.3,31.6 L97.1,31.5 L96.3,32.3 L94.9,33.0 L93.4,32.9 L91.9,32.8 L90.5,33.4 L89.9,34.6 L90.6,35.2 L91.1,36.1 L91.1,37.2 L90.5,38.1 L91.1,39.2 L91.1,40.5 L92.1,41.2 L92.8,42.2 L92.7,43.2 L93.2,44.0 L92.7,45.0 L91.7,45.5 L90.9,44.5 L89.9,43.6 L88.7,43.9 L87.6,44.5 L87.4,45.7 L87.0,46.9 L86.7,48.0 L86.4,49.2 L85.6,50.2 L84.3,50.6 L85.1,51.1 L85.2,52.1 L85.8,52.9 L85.8,53.9 L85.1,55.0 L84.7,56.2 L83.8,57.1 L82.9,58.0 L81.8,58.5 L80.6,58.6 L79.4,58.8 L78.2,59.1 L78.5,60.0 L78.8,60.9 L80.1,61.6 L81.2,62.6 L81.9,63.8 L83.0,64.7 L83.7,65.9 L84.7,66.8 L86.2,66.9 L87.6,67.4 L88.6,67.5 L89.6,67.6 L90.6,67.6 L91.3,68.2 L92.3,68.2 L93.3,67.9 L94.1,67.3 L95.1,67.9 L95.8,68.8 L96.4,70.0 L97.6,70.5 L98.1,69.7 L99.0,69.4 L100.3,69.2 L101.7,69.1 L103.1,69.5 L104.6,69.4 L105.5,70.5 L105.5,72.0 L104.8,73.4 L104.9,74.4 L105.5,75.3 L105.2,76.4 L104.8,77.8 L104.6,79.3 L104.7,80.8 L105.2,82.2 L105.9,83.3 L106.7,84.3 L107.9,84.6 L109.0,84.3 L108.7,85.1 L108.1,85.7 L107.4,86.5 L106.9,87.5 L106.2,88.8 L105.7,90.1 L104.6,90.4 L104.4,88.9 L104.0,87.5 L103.4,86.9 L102.8,86.3 L101.8,86.7 L101.1,87.5 L100.7,86.6 L99.7,86.3 L99.1,85.0 L98.5,83.6 L97.0,83.4 L96.0,83.7 L95.2,84.3 L94.2,85.1 L92.9,85.1 L91.7,85.1 L90.6,85.5 L90.0,86.9 L90.8,87.8 L91.7,88.6 L92.0,89.8 L93.1,90.4 L92.4,91.5 L92.3,92.7 L91.6,93.7 L90.6,94.5 L90.7,95.7 L90.6,96.8 L89.7,97.5 L89.3,98.6 L88.2,99.1 L87.5,99.8 L86.9,100.7 L85.9,101.2 L86.9,101.7 L87.7,102.5 L88.2,103.5 L88.8,104.5 L90.0,104.9 L90.6,105.9 L91.9,106.4 L92.9,107.3 L94.0,107.0 L95.2,106.8 L96.3,107.5 L97.6,107.6 L99.1,107.5 L100.5,108.2 L101.1,109.0 L101.7,109.9 L101.1,110.8 L100.5,111.7 L101.6,112.3 L102.8,112.3 L103.9,112.4 L104.9,112.2 L105.8,111.7 L107.1,112.4 L108.1,113.4 L108.5,114.4 L108.8,115.4 L109.0,116.4 L108.4,117.3 L108.0,118.2 L108.1,119.3 L107.1,120.4 L105.8,121.0 L106.3,122.1 L106.3,123.4 L106.3,124.9 L105.8,126.3 L105.8,127.5 L105.4,128.6 L105.2,129.8 L104.5,130.6 L104.0,131.5 L105.1,132.2 L105.8,133.3 L107.1,133.2 L108.1,133.9 L107.6,135.1 L106.9,136.2 L106.1,137.5 L105.2,138.6 L104.4,139.3 L103.3,139.8 L102.8,140.9 L101.7,141.3 L100.9,142.0 L99.9,142.6 L98.7,142.7 L97.5,142.8 L96.4,143.2 L94.9,143.6 L93.5,143.2 L92.9,141.8 L91.7,140.9 L90.6,140.5 L89.4,140.7 L88.8,141.5 L88.8,142.6 L89.0,143.4 L89.7,144.0 L90.6,144.8 L91.3,145.8 L91.0,147.0 L90.5,148.1 L91.0,149.5 L90.8,151.0 L89.9,152.1 L89.3,153.4 L88.5,153.9 L87.6,153.6 L86.6,153.2 L85.8,152.5 L85.2,151.6 L83.9,151.5 L82.8,151.0 L81.7,150.5 L80.4,150.6 L79.3,150.3 L78.2,149.6 L76.9,149.8 L75.7,149.3 L74.8,148.3 L74.5,146.9 L74.2,145.6 L73.8,144.3 L74.1,142.9 L74.4,141.7 L74.2,140.6 L74.1,139.4 L73.5,138.5 L73.4,137.5 L73.3,136.4 L72.3,136.8 L71.2,137.0 L70.3,135.9 L69.5,134.7 L68.6,133.7 L68.3,132.4 L67.5,131.7 L66.5,131.2 L65.4,131.2 L64.2,131.0 L63.1,130.8 L61.9,130.6 L60.7,130.8 L59.5,130.6 L58.4,130.0 L57.4,129.6 L56.4,129.0 L55.5,128.3 L54.5,127.9 L53.5,128.3 L52.5,127.9 L51.7,128.7 L50.4,128.3 L49.6,129.1 L48.4,129.0 L47.2,129.3 L46.1,128.9 L45.0,128.3 L43.6,128.1 L42.6,127.1 L41.4,126.5 L40.5,125.6 L39.1,125.4 L37.9,124.9 L36.7,125.1 L35.5,125.5 L34.5,126.4 L33.2,126.8 L32.1,127.2 L30.9,127.6 L29.7,127.5 L28.5,127.5 L27.4,128.0 L26.2,128.3 L25.4,128.9 L25.1,129.8 L23.8,129.5 L22.7,128.9 L21.4,128.2 L20.4,127.1 L19.7,126.0 L18.6,125.4 L17.5,124.9 L16.3,124.9 L15.1,125.1 L14.2,124.4 L13.1,124.2 L13.8,123.2 L14.0,121.9 L13.7,120.9 L13.1,120.1 L14.0,119.2 L15.1,118.6 L16.1,118.7 L17.1,118.7 L18.1,119.0 L19.1,118.2 L20.4,118.1 L20.9,116.8 L22.1,116.0 L23.2,115.0 L24.5,114.3 L24.3,113.2 L24.5,112.0 L24.1,110.7 L23.3,109.6 L24.0,108.9 L23.9,107.9 L25.0,107.6 L26.2,107.3 L27.4,106.3 L28.0,104.9 L29.3,104.7 L30.3,103.8 L31.3,102.8 L31.5,101.4 L32.6,101.0 L33.8,100.9 L34.4,100.1 L35.3,99.5 L36.2,99.1 L36.5,97.8 L37.3,96.8 L38.4,96.1 L39.7,95.9 L40.9,95.6 L42.0,95.0 L42.4,94.2 L42.0,93.3 L41.1,92.7 L40.1,92.7 L39.1,92.4 L38.5,91.3 L37.7,90.3 L38.3,89.7 L38.5,88.9 L40.0,88.8 L41.4,89.4 L42.3,89.8 L43.2,90.4 L44.3,90.3 L45.5,90.5 L46.7,90.1 L47.4,91.2 L48.4,92.1 L49.2,92.8 L50.2,93.2 L50.8,94.1 L52.3,94.2 L53.7,93.8 L54.5,93.1 L55.4,92.7 L55.4,91.4 L54.8,90.3 L54.6,89.0 L53.7,88.0 L53.0,86.9 L52.5,85.7 L51.6,84.6 L50.8,83.3 L50.2,81.9 L49.0,81.0 L48.8,79.5 L47.7,78.8 L46.5,78.4 L45.2,78.3 L44.1,77.9 L43.0,77.2 L43.0,76.0 L43.6,74.9 L44.1,74.0 L44.2,72.9 L44.1,71.9 L43.0,70.9 L42.4,69.6 L43.3,68.6 L43.6,67.3 L44.5,66.3 L44.7,64.9 L45.4,63.8 L45.9,62.6 L45.5,61.5 L45.3,60.3 L44.6,59.3 L43.5,58.6 L43.0,57.4 L41.8,57.2 L41.3,55.8 L40.1,55.6 L38.9,55.2 L37.7,55.0 L39.2,54.7 L40.6,54.4 L41.7,54.6 L42.6,53.9 L43.6,53.8 L44.8,53.5 L45.7,52.7 L46.4,53.9 L47.6,54.8 L48.6,54.7 L49.6,54.8 L50.6,55.2 L51.7,54.6 L52.9,54.4 L54.4,54.5 L55.8,55.0 L56.6,55.7 L57.5,56.0 L58.2,56.8 L59.1,56.1 L60.1,55.6 L59.1,54.6 L58.7,53.3 L59.3,52.4 L59.0,51.3 L59.3,50.3 L59.8,49.3 L60.4,48.4 L60.8,47.4 L61.4,46.5 L61.3,45.4 L61.7,44.5 L62.8,43.5 L63.2,42.2 L64.0,41.0 L63.8,40.1 L63.6,39.3 L64.2,38.3 L64.4,37.1 L65.4,36.4 L65.9,35.4 L66.3,34.3 L67.1,33.4 L66.9,32.2 L67.8,31.1 L67.7,29.9 L67.7,29.0 L68.3,28.2 L67.5,27.6 L66.8,27.0 L67.1,26.2 L67.1,25.3 L68.0,24.9 L68.9,24.5 L69.6,25.1 L70.1,25.9 L70.8,24.7 L71.5,23.5 L72.3,22.7 L73.0,21.8 L74.3,21.2 L75.3,20.2 L75.8,19.0Z" fill="none" stroke="#000" stroke-width="0.66" stroke-linejoin="round"/>
</g>
<rect x="0" y="0" width="128.0" height="167.2" fill="none" stroke="#939297" stroke-width="1.0"/>
</g>
<text x="377.5" y="36.0" text-anchor="end">23° N</text>
<text x="377.5" y="75.6" text-anchor="end">22.8° N</text>
<text x="377.5" y="115.2" text-anchor="end">22.6° N</text>
<text x="377.5" y="154.6" text-anchor="end">22.4° N</text>
<text x="434.0" y="191.7" text-anchor="end">88.2° E</text>
<text x="471.5" y="191.7" text-anchor="end">88.4° E</text>
<text x="509.5" y="191.7" text-anchor="end">88.6° E</text>
<g transform="translate(555.5,14.1)">
<clipPath id="c30"><rect x="0" y="0" width="127.9" height="167.2"/></clipPath>
<rect x="0" y="0" width="127.9" height="167.2" fill="#f7f4f9"/>
<g clip-path="url(#c30)"><g filter="url(#bl)" transform="translate(0.3,-0.3)">
<path d="M87.4,67.0 L90.3,68.2 L93.3,68.9 L95.4,70.5 L93.9,71.1 L90.3,74.6 L86.3,78.7 L84.4,81.8 L81.6,79.3 L78.1,76.3 L75.5,74.0 L76.3,72.6 L78.7,69.9 L76.9,68.2 L71.7,68.2 L71.7,66.4 L72.8,65.2 L74.8,62.9 L71.7,59.4 L72.8,57.6 L75.8,54.1 L78.1,50.6 L81.6,47.7 L82.5,45.0 L83.9,41.5 L86.3,38.0 L82.8,33.9 L82.8,31.0 L87.4,29.2 L91.5,25.2 L93.3,20.5 L94.4,17.0 L89.8,12.1 L83.9,11.7 L80.4,14.6 L76.9,18.1 L72.8,18.7 L70.5,20.5 L73.4,23.4 L76.3,25.7 L78.1,27.5 L78.1,31.6 L74.6,35.1 L70.5,39.2 L70.5,44.8 L69.9,49.5 L67.0,53.0 L65.8,56.5 L62.9,59.4 L62.3,62.3 L63.8,64.1 L66.4,66.4 L65.8,67.6 L63.1,69.9 L63.8,71.1 L66.4,74.0 L65.8,76.3 L63.1,79.8 L63.1,89.6 L60.3,93.1 L57.7,96.0 L54.8,95.7 L52.1,95.0 L51.1,98.3 L51.1,103.0 L53.6,105.3 L54.5,106.7 L51.5,109.4 L51.1,112.3 L53.1,114.7 L56.8,115.3 L58.3,118.2 L56.0,120.5 L61.0,125.2 L64.7,121.7 L70.0,121.9 L74.1,125.2 L77.6,124.6 L78.2,119.3 L78.8,115.8 L82.3,112.6 L86.3,109.1 L83.7,106.7 L82.0,105.6 L86.3,101.6 L86.9,96.0 L86.9,91.9 L89.8,88.4 L86.8,85.7 L87.4,83.9 L90.3,81.0 L93.3,79.8 L96.8,79.3 L98.5,76.3 L98.5,72.2 L96.9,70.1 L96.8,69.6 L93.9,66.4 L90.3,64.4 L86.8,65.2Z" fill="#e3449b" fill-rule="evenodd"/>
<path d="M87.7,66.8 L90.4,67.9 L93.4,68.6 L96.0,70.6 L94.1,71.4 L90.5,74.8 L86.5,78.9 L84.4,82.3 L81.4,79.5 L77.9,76.5 L75.1,74.1 L76.0,72.4 L78.3,69.9 L76.8,68.5 L71.4,68.5 L71.4,66.3 L72.6,65.0 L74.4,62.9 L71.3,59.4 L72.5,57.4 L75.5,53.9 L77.9,50.4 L81.3,47.5 L82.2,44.9 L83.6,41.4 L85.9,38.0 L82.5,34.0 L82.5,30.8 L87.2,28.9 L91.2,25.0 L93.0,20.4 L94.0,17.1 L89.7,12.4 L84.0,12.0 L80.6,14.8 L77.0,18.4 L72.9,19.0 L71.0,20.5 L73.6,23.2 L76.5,25.5 L78.4,27.4 L78.4,31.7 L74.8,35.3 L70.8,39.3 L70.8,44.8 L70.2,49.6 L67.3,53.2 L66.1,56.7 L63.2,59.6 L62.6,62.2 L64.0,63.9 L66.8,66.3 L66.1,67.8 L63.5,70.0 L64.1,70.9 L66.7,73.9 L66.1,76.4 L63.4,79.9 L63.4,89.7 L60.5,93.3 L57.8,96.3 L54.7,96.0 L52.3,95.4 L51.4,98.3 L51.4,102.9 L53.8,105.1 L54.9,106.8 L51.8,109.6 L51.4,112.2 L53.3,114.4 L57.0,115.0 L58.7,118.3 L56.5,120.5 L61.0,124.8 L64.6,121.4 L70.1,121.6 L74.2,124.9 L77.3,124.3 L77.9,119.3 L78.5,115.6 L82.1,112.4 L85.8,109.1 L83.5,106.9 L81.5,105.6 L86.0,101.4 L86.6,96.0 L86.6,91.8 L89.4,88.4 L86.5,85.8 L87.1,83.7 L90.1,80.7 L93.2,79.5 L96.6,79.0 L98.2,76.2 L98.2,72.3 L96.7,70.2 L96.5,69.8 L93.7,66.7 L90.3,64.7 L87.2,65.4Z" fill="#a10346" fill-rule="evenodd"/>
<path d="M88.0,66.5 L90.5,67.5 L93.6,68.3 L96.3,70.3 L96.2,69.9 L93.5,67.0 L90.2,65.1 L87.7,65.7ZM96.6,70.8 L94.3,71.7 L90.8,75.1 L86.9,79.1 L84.5,82.9 L81.1,79.8 L77.6,76.8 L74.6,74.1 L75.7,72.2 L77.7,69.9 L76.6,68.9 L71.0,68.9 L71.0,66.1 L72.3,64.7 L73.9,62.9 L70.8,59.5 L72.2,57.2 L75.2,53.7 L77.6,50.1 L81.0,47.3 L81.8,44.8 L83.3,41.2 L85.4,38.0 L82.1,34.2 L82.1,30.5 L87.0,28.6 L90.9,24.8 L92.6,20.3 L93.6,17.2 L89.5,12.8 L84.1,12.4 L80.9,15.1 L77.2,18.8 L73.1,19.4 L71.6,20.6 L73.9,22.9 L76.8,25.2 L78.8,27.2 L78.8,31.9 L75.1,35.6 L71.2,39.5 L71.2,44.8 L70.6,49.8 L67.6,53.3 L66.4,56.9 L63.5,59.7 L63.1,62.1 L64.3,63.6 L67.3,66.2 L66.4,68.0 L64.0,70.1 L64.4,70.7 L67.2,73.8 L66.4,76.6 L63.8,80.0 L63.8,89.8 L60.8,93.6 L58.0,96.7 L54.7,96.4 L52.6,95.8 L51.8,98.4 L51.8,102.7 L54.1,104.8 L55.4,106.8 L52.2,109.7 L51.8,112.1 L53.5,114.1 L57.3,114.7 L59.2,118.3 L57.0,120.5 L61.0,124.2 L64.4,121.0 L70.3,121.2 L74.3,124.5 L77.0,124.0 L77.5,119.2 L78.2,115.4 L81.8,112.1 L85.3,109.1 L83.3,107.3 L80.9,105.7 L85.6,101.3 L86.2,96.0 L86.2,91.6 L88.8,88.5 L86.0,86.0 L86.8,83.5 L89.9,80.4 L93.1,79.1 L96.4,78.7 L97.8,76.1 L97.8,72.4Z" fill="#67001f" fill-rule="evenodd"/>
<path d="M98.0,20.6 L102.4,17.6 L106.8,20.6 L102.4,23.6Z" fill="#a10346"/>
<path d="M39.7,99.0 L42.1,96.6 L44.5,99.0 L42.1,101.4Z" fill="#d51965"/>
<path d="M35.7,116.8 L38.2,114.3 L40.7,116.8 L38.2,119.3Z" fill="#d51965"/>
<path d="M100.6,20.4 L102.6,19.0 L104.6,20.4 L102.6,21.8Z" fill="#a10346"/>
<path d="M40.9,99.0 L42.1,97.8 L43.3,99.0 L42.1,100.2Z" fill="#a10346"/>
<path d="M37.0,116.8 L38.2,115.6 L39.4,116.8 L38.2,118.0Z" fill="#a10346"/>
<path d="M94.3,4.6 L96.8,1.6 L99.5,0.0 L102.0,0.0 L99.2,3.2 L96.6,5.4Z" fill="#a10346"/>
<path d="M52.1,93.8 L55.4,95.0 L57.8,96.4 L61.6,93.8 L61.9,103.2 L59.5,106.1 L61.9,109.0 L59.5,114.9 L53.7,113.5 L52.1,110.8 L53.7,104.4 L52.1,100.9Z" fill="#a10346"/>
<path d="M56.6,116.6 L63.0,116.0 L71.2,116.6 L79.2,116.0 L78.9,124.4 L74.7,124.9 L71.8,122.8 L68.3,121.1 L64.8,121.6 L61.3,124.4 L57.8,121.1 L56.3,119.0Z" fill="#a10346"/>
<path d="M71.3,20.6 L73.4,18.5 L77.1,17.7 L77.1,23.5 L74.3,23.5Z" fill="#a10346"/>
<path d="M70.0,88.0 L72.9,85.8 L75.8,88.0 L72.9,90.2Z" fill="#f7f4f9"/>
<path d="M70.5,97.2 L72.9,93.3 L75.3,97.2 L72.9,101.1Z" fill="#f7f4f9"/>
<path d="M59.2,105.9 L61.4,103.7 L63.6,105.9 L61.4,108.1Z" fill="#f7f4f9"/>
<path d="M67.0,105.9 L69.3,103.6 L71.6,105.9 L69.3,108.2Z" fill="#f7f4f9"/>
<path d="M85.2,24.6 L88.6,22.0 L92.0,24.6 L88.6,27.2Z" fill="#e3449b"/>
<path d="M67.3,63.4 L69.9,60.8 L72.5,63.4 L69.9,66.0Z" fill="#e3449b"/>
</g>
<path d="M76.8,18.3 L76.9,17.3 L77.3,16.3 L77.7,15.5 L78.5,15.1 L79.8,15.2 L81.2,15.1 L82.3,15.1 L83.1,15.9 L83.7,16.8 L84.3,17.7 L85.1,18.0 L85.8,18.6 L86.5,17.7 L87.6,17.4 L88.4,17.7 L89.3,17.9 L90.6,18.0 L91.7,18.8 L92.5,19.3 L93.2,19.8 L94.0,20.7 L94.0,21.8 L94.3,20.4 L95.2,19.4 L96.0,18.9 L96.9,18.6 L97.7,19.3 L98.7,19.4 L99.7,20.4 L100.2,21.8 L100.8,22.9 L101.0,24.1 L101.1,25.6 L101.4,27.0 L100.8,28.1 L101.0,29.4 L100.1,30.2 L99.3,31.1 L98.3,31.6 L97.1,31.5 L96.3,32.3 L94.9,33.0 L93.4,32.9 L91.9,32.8 L90.5,33.4 L89.9,34.6 L90.6,35.2 L91.1,36.1 L91.1,37.2 L90.5,38.1 L91.1,39.2 L91.1,40.5 L92.1,41.2 L92.8,42.2 L92.7,43.2 L93.2,44.0 L92.7,45.0 L91.7,45.5 L90.9,44.5 L89.9,43.6 L88.7,43.9 L87.6,44.5 L87.4,45.7 L87.0,46.9 L86.7,48.0 L86.4,49.2 L85.6,50.2 L84.3,50.6 L85.1,51.1 L85.2,52.1 L85.8,52.9 L85.8,53.9 L85.1,55.0 L84.7,56.2 L83.8,57.1 L82.9,58.0 L81.8,58.5 L80.6,58.6 L79.4,58.8 L78.2,59.1 L78.5,60.0 L78.8,60.9 L80.1,61.6 L81.2,62.6 L81.9,63.8 L83.0,64.7 L83.7,65.9 L84.7,66.8 L86.2,66.9 L87.6,67.4 L88.6,67.5 L89.6,67.6 L90.6,67.6 L91.3,68.2 L92.3,68.2 L93.3,67.9 L94.1,67.3 L95.1,67.9 L95.8,68.8 L96.4,70.0 L97.6,70.5 L98.1,69.7 L99.0,69.4 L100.3,69.2 L101.7,69.1 L103.1,69.5 L104.6,69.4 L105.5,70.5 L105.5,72.0 L104.8,73.4 L104.9,74.4 L105.5,75.3 L105.2,76.4 L104.8,77.8 L104.6,79.3 L104.7,80.8 L105.2,82.2 L105.9,83.3 L106.7,84.3 L107.9,84.6 L109.0,84.3 L108.7,85.1 L108.1,85.7 L107.4,86.5 L106.9,87.5 L106.2,88.8 L105.7,90.1 L104.6,90.4 L104.4,88.9 L104.0,87.5 L103.4,86.9 L102.8,86.3 L101.8,86.7 L101.1,87.5 L100.7,86.6 L99.7,86.3 L99.1,85.0 L98.5,83.6 L97.0,83.4 L96.0,83.7 L95.2,84.3 L94.2,85.1 L92.9,85.1 L91.7,85.1 L90.6,85.5 L90.0,86.9 L90.8,87.8 L91.7,88.6 L92.0,89.8 L93.1,90.4 L92.4,91.5 L92.3,92.7 L91.6,93.7 L90.6,94.5 L90.7,95.7 L90.6,96.8 L89.7,97.5 L89.3,98.6 L88.2,99.1 L87.5,99.8 L86.9,100.7 L85.9,101.2 L86.9,101.7 L87.7,102.5 L88.2,103.5 L88.8,104.5 L90.0,104.9 L90.6,105.9 L91.9,106.4 L92.9,107.3 L94.0,107.0 L95.2,106.8 L96.3,107.5 L97.6,107.6 L99.1,107.5 L100.5,108.2 L101.1,109.0 L101.7,109.9 L101.1,110.8 L100.5,111.7 L101.6,112.3 L102.8,112.3 L103.9,112.4 L104.9,112.2 L105.8,111.7 L107.1,112.4 L108.1,113.4 L108.5,114.4 L108.8,115.4 L109.0,116.4 L108.4,117.3 L108.0,118.2 L108.1,119.3 L107.1,120.4 L105.8,121.0 L106.3,122.1 L106.3,123.4 L106.3,124.9 L105.8,126.3 L105.8,127.5 L105.4,128.6 L105.2,129.8 L104.5,130.6 L104.0,131.5 L105.1,132.2 L105.8,133.3 L107.1,133.2 L108.1,133.9 L107.6,135.1 L106.9,136.2 L106.1,137.5 L105.2,138.6 L104.4,139.3 L103.3,139.8 L102.8,140.9 L101.7,141.3 L100.9,142.0 L99.9,142.6 L98.7,142.7 L97.5,142.8 L96.4,143.2 L94.9,143.6 L93.5,143.2 L92.9,141.8 L91.7,140.9 L90.6,140.5 L89.4,140.7 L88.8,141.5 L88.8,142.6 L89.0,143.4 L89.7,144.0 L90.6,144.8 L91.3,145.8 L91.0,147.0 L90.5,148.1 L91.0,149.5 L90.8,151.0 L89.9,152.1 L89.3,153.4 L88.5,153.9 L87.6,153.6 L86.6,153.2 L85.8,152.5 L85.2,151.6 L83.9,151.5 L82.8,151.0 L81.7,150.5 L80.4,150.6 L79.3,150.3 L78.2,149.6 L76.9,149.8 L75.7,149.3 L74.8,148.3 L74.5,146.9 L74.2,145.6 L73.8,144.3 L74.1,142.9 L74.4,141.7 L74.2,140.6 L74.1,139.4 L73.5,138.5 L73.4,137.5 L73.3,136.4 L72.3,136.8 L71.2,137.0 L70.3,135.9 L69.5,134.7 L68.6,133.7 L68.3,132.4 L67.5,131.7 L66.5,131.2 L65.4,131.2 L64.2,131.0 L63.1,130.8 L61.9,130.6 L60.7,130.8 L59.5,130.6 L58.4,130.0 L57.4,129.6 L56.4,129.0 L55.5,128.3 L54.5,127.9 L53.5,128.3 L52.5,127.9 L51.7,128.7 L50.4,128.3 L49.6,129.1 L48.4,129.0 L47.2,129.3 L46.1,128.9 L45.0,128.3 L43.6,128.1 L42.6,127.1 L41.4,126.5 L40.5,125.6 L39.1,125.4 L37.9,124.9 L36.7,125.1 L35.5,125.5 L34.5,126.4 L33.2,126.8 L32.1,127.2 L30.9,127.6 L29.7,127.5 L28.5,127.5 L27.4,128.0 L26.2,128.3 L25.4,128.9 L25.1,129.8 L23.8,129.5 L22.7,128.9 L21.4,128.2 L20.4,127.1 L19.7,126.0 L18.6,125.4 L17.5,124.9 L16.3,124.9 L15.1,125.1 L14.2,124.4 L13.1,124.2 L13.8,123.2 L14.0,121.9 L13.7,120.9 L13.1,120.1 L14.0,119.2 L15.1,118.6 L16.1,118.7 L17.1,118.7 L18.1,119.0 L19.1,118.2 L20.4,118.1 L20.9,116.8 L22.1,116.0 L23.2,115.0 L24.5,114.3 L24.3,113.2 L24.5,112.0 L24.1,110.7 L23.3,109.6 L24.0,108.9 L23.9,107.9 L25.0,107.6 L26.2,107.3 L27.4,106.3 L28.0,104.9 L29.3,104.7 L30.3,103.8 L31.3,102.8 L31.5,101.4 L32.6,101.0 L33.8,100.9 L34.4,100.1 L35.3,99.5 L36.2,99.1 L36.5,97.8 L37.3,96.8 L38.4,96.1 L39.7,95.9 L40.9,95.6 L42.0,95.0 L42.4,94.2 L42.0,93.3 L41.1,92.7 L40.1,92.7 L39.1,92.4 L38.5,91.3 L37.7,90.3 L38.3,89.7 L38.5,88.9 L40.0,88.8 L41.4,89.4 L42.3,89.8 L43.2,90.4 L44.3,90.3 L45.5,90.5 L46.7,90.1 L47.4,91.2 L48.4,92.1 L49.2,92.8 L50.2,93.2 L50.8,94.1 L52.3,94.2 L53.7,93.8 L54.5,93.1 L55.4,92.7 L55.4,91.4 L54.8,90.3 L54.6,89.0 L53.7,88.0 L53.0,86.9 L52.5,85.7 L51.6,84.6 L50.8,83.3 L50.2,81.9 L49.0,81.0 L48.8,79.5 L47.7,78.8 L46.5,78.4 L45.2,78.3 L44.1,77.9 L43.0,77.2 L43.0,76.0 L43.6,74.9 L44.1,74.0 L44.2,72.9 L44.1,71.9 L43.0,70.9 L42.4,69.6 L43.3,68.6 L43.6,67.3 L44.5,66.3 L44.7,64.9 L45.4,63.8 L45.9,62.6 L45.5,61.5 L45.3,60.3 L44.6,59.3 L43.5,58.6 L43.0,57.4 L41.8,57.2 L41.3,55.8 L40.1,55.6 L38.9,55.2 L37.7,55.0 L39.2,54.7 L40.6,54.4 L41.7,54.6 L42.6,53.9 L43.6,53.8 L44.8,53.5 L45.7,52.7 L46.4,53.9 L47.6,54.8 L48.6,54.7 L49.6,54.8 L50.6,55.2 L51.7,54.6 L52.9,54.4 L54.4,54.5 L55.8,55.0 L56.6,55.7 L57.5,56.0 L58.2,56.8 L59.1,56.1 L60.1,55.6 L59.1,54.6 L58.7,53.3 L59.3,52.4 L59.0,51.3 L59.3,50.3 L59.8,49.3 L60.4,48.4 L60.8,47.4 L61.4,46.5 L61.3,45.4 L61.7,44.5 L62.8,43.5 L63.2,42.2 L64.0,41.0 L63.8,40.1 L63.6,39.3 L64.2,38.3 L64.4,37.1 L65.4,36.4 L65.9,35.4 L66.3,34.3 L67.1,33.4 L66.9,32.2 L67.8,31.1 L67.7,29.9 L67.7,29.0 L68.3,28.2 L67.5,27.6 L66.8,27.0 L67.1,26.2 L67.1,25.3 L68.0,24.9 L68.9,24.5 L69.6,25.1 L70.1,25.9 L70.8,24.7 L71.5,23.5 L72.3,22.7 L73.0,21.8 L74.3,21.2 L75.3,20.2 L75.8,19.0Z" fill="none" stroke="#000" stroke-width="0.66" stroke-linejoin="round"/>
</g>
<rect x="0" y="0" width="127.9" height="167.2" fill="none" stroke="#939297" stroke-width="1.0"/>
</g>
<text x="552.2" y="36.0" text-anchor="end">23° N</text>
<text x="552.2" y="75.6" text-anchor="end">22.8° N</text>
<text x="552.2" y="115.2" text-anchor="end">22.6° N</text>
<text x="552.2" y="154.6" text-anchor="end">22.4° N</text>
<text x="608.0" y="191.7" text-anchor="end">88.2° E</text>
<text x="645.5" y="191.7" text-anchor="end">88.4° E</text>
<text x="683.5" y="191.7" text-anchor="end">88.6° E</text>
<g transform="translate(33.1,270.6)">
<clipPath id="c01"><rect x="0" y="0" width="128.0" height="167.4"/></clipPath>
<rect x="0" y="0" width="128.0" height="167.4" fill="#f7f4f9"/>
<g clip-path="url(#c01)"><g filter="url(#bl)" transform="translate(0.2,0.6)">
<path d="M98.3,9.0 L103.0,3.3 L127.7,3.3 L127.7,37.5 L121.1,46.9 L115.4,56.4 L110.6,56.4 L107.8,50.7 L103.0,46.9 L100.2,43.1 L107.8,37.5 L113.5,31.8 L111.6,26.1 L105.9,20.4 L100.2,14.7Z" fill="#e5dcec"/>
<path d="M103.0,7.1 L113.5,4.2 L126.8,5.2 L126.8,28.0 L121.1,37.5 L116.3,39.4 L113.5,33.7 L111.6,24.2 L106.8,16.6 L103.0,12.8Z" fill="#d1afd5"/>
<path d="M111.6,44.1 L115.4,42.2 L116.3,46.9 L112.5,47.9Z" fill="#d1afd5"/>
<path d="M111.6,14.7 L117.3,14.7 L118.2,18.5 L113.5,18.5Z" fill="#d280bd"/>
<path d="M98.3,81.5 L105.9,81.1 L105.9,85.9 L99.2,85.9Z" fill="#e5dcec"/>
<path d="M123.0,105.9 L128.7,105.9 L128.7,115.4 L123.9,114.4Z" fill="#e5dcec"/>
<path d="M87.4,67.0 L90.3,68.2 L93.3,68.9 L95.4,70.5 L93.9,71.1 L90.3,74.6 L86.3,78.7 L84.4,81.8 L81.6,79.3 L78.1,76.3 L75.5,74.0 L76.3,72.6 L78.7,69.9 L76.9,68.2 L71.7,68.2 L71.7,66.4 L72.8,65.2 L74.8,62.9 L71.7,59.4 L72.8,57.6 L75.8,54.1 L78.1,50.6 L81.6,47.7 L82.5,45.0 L83.9,41.5 L86.3,38.0 L82.8,33.9 L82.8,31.0 L87.4,29.2 L91.5,25.2 L93.3,20.5 L94.4,17.0 L89.8,12.1 L83.9,11.7 L80.4,14.6 L76.9,18.1 L72.8,18.7 L70.5,20.5 L73.4,23.4 L76.3,25.7 L78.1,27.5 L78.1,31.6 L74.6,35.1 L70.5,39.2 L70.5,44.8 L69.9,49.5 L67.0,53.0 L65.8,56.5 L62.9,59.4 L62.3,62.3 L63.8,64.1 L66.4,66.4 L65.8,67.6 L63.1,69.9 L63.8,71.1 L66.4,74.0 L65.8,76.3 L63.1,79.8 L63.1,89.6 L60.3,93.1 L57.7,96.0 L54.8,95.7 L52.1,95.0 L51.1,98.3 L51.1,103.0 L53.6,105.3 L54.5,106.7 L51.5,109.4 L51.1,112.3 L53.1,114.7 L56.8,115.3 L58.3,118.2 L56.0,120.5 L61.0,125.2 L64.7,121.7 L70.0,121.9 L74.1,125.2 L77.6,124.6 L78.2,119.3 L78.8,115.8 L82.3,112.6 L86.3,109.1 L83.7,106.7 L82.0,105.6 L86.3,101.6 L86.9,96.0 L86.9,91.9 L89.8,88.4 L86.8,85.7 L87.4,83.9 L90.3,81.0 L93.3,79.8 L96.8,79.3 L98.5,76.3 L98.5,72.2 L96.9,70.1 L96.8,69.6 L93.9,66.4 L90.3,64.4 L86.8,65.2Z" fill="#d280bd" fill-rule="evenodd"/>
<path d="M98.0,20.6 L102.4,17.6 L106.8,20.6 L102.4,23.6Z" fill="#d280bd"/>
<path d="M39.7,99.0 L42.1,96.6 L44.5,99.0 L42.1,101.4Z" fill="#d280bd"/>
<path d="M35.7,116.8 L38.2,114.3 L40.7,116.8 L38.2,119.3Z" fill="#d280bd"/>
<path d="M94.3,4.6 L96.8,1.6 L99.5,0.0 L102.0,0.0 L99.2,3.2 L96.6,5.4Z" fill="#d280bd"/>
<path d="M73.6,20.8 L81.2,17.7 L83.1,24.2 L78.4,27.2Z" fill="#e3449b"/>
<path d="M70.9,88.0 L72.9,86.5 L74.9,88.0 L72.9,89.5Z" fill="#f7f4f9"/>
<path d="M71.2,97.2 L72.9,94.5 L74.6,97.2 L72.9,99.9Z" fill="#f7f4f9"/>
<path d="M59.9,105.9 L61.4,104.4 L62.9,105.9 L61.4,107.4Z" fill="#f7f4f9"/>
<path d="M67.7,105.9 L69.3,104.3 L70.9,105.9 L69.3,107.5Z" fill="#f7f4f9"/>
<path d="M85.2,24.6 L88.6,22.0 L92.0,24.6 L88.6,27.2Z" fill="#d280bd"/>
<path d="M87.1,24.6 L88.6,23.4 L90.1,24.6 L88.6,25.8Z" fill="#f7f4f9"/>
<path d="M67.3,63.4 L69.9,60.8 L72.5,63.4 L69.9,66.0Z" fill="#d280bd"/>
<path d="M68.6,63.4 L69.9,62.1 L71.2,63.4 L69.9,64.7Z" fill="#f7f4f9"/>
</g>
<path d="M81.2,20.3 L81.3,19.3 L81.7,18.3 L82.1,17.5 L82.9,17.1 L84.2,17.2 L85.6,17.1 L86.7,17.1 L87.5,17.9 L88.1,18.8 L88.7,19.7 L89.5,20.0 L90.2,20.6 L90.9,19.7 L92.0,19.4 L92.8,19.7 L93.7,19.9 L95.0,20.0 L96.1,20.8 L96.9,21.3 L97.6,21.8 L98.4,22.7 L98.4,23.8 L98.7,22.4 L99.6,21.4 L100.4,20.9 L101.3,20.6 L102.1,21.3 L103.1,21.4 L104.1,22.4 L104.6,23.8 L105.2,24.9 L105.4,26.1 L105.5,27.6 L105.8,29.0 L105.2,30.1 L105.4,31.4 L104.5,32.2 L103.7,33.1 L102.7,33.6 L101.5,33.5 L100.7,34.3 L99.3,35.0 L97.8,34.9 L96.3,34.8 L94.9,35.4 L94.3,36.6 L95.0,37.2 L95.5,38.1 L95.5,39.2 L94.9,40.1 L95.5,41.2 L95.5,42.5 L96.5,43.2 L97.2,44.2 L97.1,45.2 L97.6,46.0 L97.1,47.0 L96.1,47.5 L95.3,46.5 L94.3,45.6 L93.1,45.9 L92.0,46.5 L91.8,47.7 L91.4,48.9 L91.1,50.0 L90.8,51.2 L90.0,52.2 L88.7,52.6 L89.5,53.1 L89.6,54.1 L90.2,54.9 L90.2,55.9 L89.5,57.0 L89.1,58.2 L88.2,59.1 L87.3,60.0 L86.2,60.5 L85.0,60.6 L83.8,60.8 L82.6,61.1 L82.9,62.0 L83.2,62.9 L84.5,63.6 L85.6,64.6 L86.3,65.8 L87.4,66.7 L88.1,67.9 L89.1,68.8 L90.6,68.9 L92.0,69.4 L93.0,69.5 L94.0,69.6 L95.0,69.6 L95.7,70.2 L96.7,70.2 L97.7,69.9 L98.5,69.3 L99.5,69.9 L100.2,70.8 L100.8,72.0 L102.0,72.5 L102.5,71.7 L103.4,71.4 L104.7,71.2 L106.1,71.1 L107.5,71.5 L109.0,71.4 L109.9,72.5 L109.9,74.0 L109.2,75.4 L109.3,76.4 L109.9,77.3 L109.6,78.4 L109.2,79.8 L109.0,81.3 L109.1,82.8 L109.6,84.2 L110.3,85.3 L111.1,86.3 L112.3,86.6 L113.4,86.3 L113.1,87.1 L112.5,87.7 L111.8,88.5 L111.3,89.5 L110.6,90.8 L110.1,92.1 L109.0,92.4 L108.8,90.9 L108.4,89.5 L107.8,88.9 L107.2,88.3 L106.2,88.7 L105.5,89.5 L105.1,88.6 L104.1,88.3 L103.5,87.0 L102.9,85.6 L101.4,85.4 L100.4,85.7 L99.6,86.3 L98.6,87.1 L97.3,87.1 L96.1,87.1 L95.0,87.5 L94.4,88.9 L95.2,89.8 L96.1,90.6 L96.4,91.8 L97.5,92.4 L96.8,93.5 L96.7,94.7 L96.0,95.7 L95.0,96.5 L95.1,97.7 L95.0,98.8 L94.1,99.5 L93.7,100.6 L92.6,101.1 L91.9,101.8 L91.3,102.7 L90.3,103.2 L91.3,103.7 L92.1,104.5 L92.6,105.5 L93.2,106.5 L94.4,106.9 L95.0,107.9 L96.3,108.4 L97.3,109.3 L98.4,109.0 L99.6,108.8 L100.7,109.5 L102.0,109.6 L103.5,109.5 L104.9,110.2 L105.5,111.0 L106.1,111.9 L105.5,112.8 L104.9,113.7 L106.0,114.3 L107.2,114.3 L108.3,114.4 L109.3,114.2 L110.2,113.7 L111.5,114.4 L112.5,115.4 L112.9,116.4 L113.2,117.4 L113.4,118.4 L112.8,119.3 L112.4,120.2 L112.5,121.3 L111.5,122.4 L110.2,123.0 L110.7,124.1 L110.7,125.4 L110.7,126.9 L110.2,128.3 L110.2,129.5 L109.8,130.6 L109.6,131.8 L108.9,132.6 L108.4,133.5 L109.5,134.2 L110.2,135.3 L111.5,135.2 L112.5,135.9 L112.0,137.1 L111.3,138.2 L110.5,139.5 L109.6,140.6 L108.8,141.3 L107.7,141.8 L107.2,142.9 L106.1,143.3 L105.3,144.0 L104.3,144.6 L103.1,144.7 L101.9,144.8 L100.8,145.2 L99.3,145.6 L97.9,145.2 L97.3,143.8 L96.1,142.9 L95.0,142.5 L93.8,142.7 L93.2,143.5 L93.2,144.6 L93.4,145.4 L94.1,146.0 L95.0,146.8 L95.7,147.8 L95.4,149.0 L94.9,150.1 L95.4,151.5 L95.2,153.0 L94.3,154.1 L93.7,155.4 L92.9,155.9 L92.0,155.6 L91.0,155.2 L90.2,154.5 L89.6,153.6 L88.3,153.5 L87.2,153.0 L86.1,152.5 L84.8,152.6 L83.7,152.3 L82.6,151.6 L81.3,151.8 L80.1,151.3 L79.2,150.3 L78.9,148.9 L78.6,147.6 L78.2,146.3 L78.5,144.9 L78.8,143.7 L78.6,142.6 L78.5,141.4 L77.9,140.5 L77.8,139.5 L77.7,138.4 L76.7,138.8 L75.6,139.0 L74.7,137.9 L73.9,136.7 L73.0,135.7 L72.7,134.4 L71.9,133.7 L70.9,133.2 L69.8,133.2 L68.6,133.0 L67.5,132.8 L66.3,132.6 L65.1,132.8 L63.9,132.6 L62.8,132.0 L61.8,131.6 L60.8,131.0 L59.9,130.3 L58.9,129.9 L57.9,130.3 L56.9,129.9 L56.1,130.7 L54.8,130.3 L54.0,131.1 L52.8,131.0 L51.6,131.3 L50.5,130.9 L49.4,130.3 L48.0,130.1 L47.0,129.1 L45.8,128.5 L44.9,127.6 L43.5,127.4 L42.3,126.9 L41.1,127.1 L39.9,127.5 L38.9,128.4 L37.6,128.8 L36.5,129.2 L35.3,129.6 L34.1,129.5 L32.9,129.5 L31.8,130.0 L30.6,130.3 L29.8,130.9 L29.5,131.8 L28.2,131.5 L27.1,130.9 L25.8,130.2 L24.8,129.1 L24.1,128.0 L23.0,127.4 L21.9,126.9 L20.7,126.9 L19.5,127.1 L18.6,126.4 L17.5,126.2 L18.2,125.2 L18.4,123.9 L18.1,122.9 L17.5,122.1 L18.4,121.2 L19.5,120.6 L20.5,120.7 L21.5,120.7 L22.5,121.0 L23.5,120.2 L24.8,120.1 L25.3,118.8 L26.5,118.0 L27.6,117.0 L28.9,116.3 L28.7,115.2 L28.9,114.0 L28.5,112.7 L27.7,111.6 L28.4,110.9 L28.3,109.9 L29.4,109.6 L30.6,109.3 L31.8,108.3 L32.4,106.9 L33.7,106.7 L34.7,105.8 L35.7,104.8 L35.9,103.4 L37.0,103.0 L38.2,102.9 L38.8,102.1 L39.7,101.5 L40.6,101.1 L40.9,99.8 L41.7,98.8 L42.8,98.1 L44.1,97.9 L45.3,97.6 L46.4,97.0 L46.8,96.2 L46.4,95.3 L45.5,94.7 L44.5,94.7 L43.5,94.4 L42.9,93.3 L42.1,92.3 L42.7,91.7 L42.9,90.9 L44.4,90.8 L45.8,91.4 L46.7,91.8 L47.6,92.4 L48.7,92.3 L49.9,92.5 L51.1,92.1 L51.8,93.2 L52.8,94.1 L53.6,94.8 L54.6,95.2 L55.2,96.1 L56.7,96.2 L58.1,95.8 L58.9,95.1 L59.8,94.7 L59.8,93.4 L59.2,92.3 L59.0,91.0 L58.1,90.0 L57.4,88.9 L56.9,87.7 L56.0,86.6 L55.2,85.3 L54.6,83.9 L53.4,83.0 L53.2,81.5 L52.1,80.8 L50.9,80.4 L49.6,80.3 L48.5,79.9 L47.4,79.2 L47.4,78.0 L48.0,76.9 L48.5,76.0 L48.6,74.9 L48.5,73.9 L47.4,72.9 L46.8,71.6 L47.7,70.6 L48.0,69.3 L48.9,68.3 L49.1,66.9 L49.8,65.8 L50.3,64.6 L49.9,63.5 L49.7,62.3 L49.0,61.3 L47.9,60.6 L47.4,59.4 L46.2,59.2 L45.7,57.8 L44.5,57.6 L43.3,57.2 L42.1,57.0 L43.6,56.7 L45.0,56.4 L46.1,56.6 L47.0,55.9 L48.0,55.8 L49.2,55.5 L50.1,54.7 L50.8,55.9 L52.0,56.8 L53.0,56.7 L54.0,56.8 L55.0,57.2 L56.1,56.6 L57.3,56.4 L58.8,56.5 L60.2,57.0 L61.0,57.7 L61.9,58.0 L62.6,58.8 L63.5,58.1 L64.5,57.6 L63.5,56.6 L63.1,55.3 L63.7,54.4 L63.4,53.3 L63.7,52.3 L64.2,51.3 L64.8,50.4 L65.2,49.4 L65.8,48.5 L65.7,47.4 L66.1,46.5 L67.2,45.5 L67.6,44.2 L68.4,43.0 L68.2,42.1 L68.0,41.3 L68.6,40.3 L68.8,39.1 L69.8,38.4 L70.3,37.4 L70.7,36.3 L71.5,35.4 L71.3,34.2 L72.2,33.1 L72.1,31.9 L72.1,31.0 L72.7,30.2 L71.9,29.6 L71.2,29.0 L71.5,28.2 L71.5,27.3 L72.4,26.9 L73.3,26.5 L74.0,27.1 L74.5,27.9 L75.2,26.7 L75.9,25.5 L76.7,24.7 L77.4,23.8 L78.7,23.2 L79.7,22.2 L80.2,21.0Z" fill="none" stroke="#000" stroke-width="0.66" stroke-linejoin="round"/>
</g>
<rect x="0" y="0" width="128.0" height="167.4" fill="none" stroke="#939297" stroke-width="1.0"/>
</g>
<text x="29.1" y="294.1" text-anchor="end">23° N</text>
<text x="29.1" y="333.7" text-anchor="end">22.8° N</text>
<text x="29.1" y="373.3" text-anchor="end">22.6° N</text>
<text x="29.1" y="412.7" text-anchor="end">22.4° N</text>
<text x="85.6" y="449.4" text-anchor="end">88.2° E</text>
<text x="123.1" y="449.4" text-anchor="end">88.4° E</text>
<text x="161.1" y="449.4" text-anchor="end">88.6° E</text>
<g transform="translate(207.5,271.4)">
<clipPath id="c11"><rect x="0" y="0" width="128.0" height="167.0"/></clipPath>
<rect x="0" y="0" width="128.0" height="167.0" fill="#f7f4f9"/>
<g clip-path="url(#c11)"><g filter="url(#bl)" transform="translate(0.1,0.0)">
<path d="M20.5,1.4 L37.6,1.4 L35.7,6.1 L26.2,7.1Z" fill="#e5dcec"/>
<path d="M47.0,7.1 L60.3,2.3 L71.7,3.3 L75.5,9.0 L72.7,16.6 L69.8,22.3 L66.0,28.0 L56.5,29.9 L48.9,26.1 L48.0,18.5 L46.1,12.8Z" fill="#e5dcec"/>
<path d="M51.5,9.9 L56.5,5.4 L61.5,9.9 L56.5,14.4Z" fill="#d1afd5"/>
<path d="M66.3,11.8 L69.8,9.8 L73.3,11.8 L69.8,13.8Z" fill="#d1afd5"/>
<path d="M109.7,35.6 L117.3,29.9 L126.8,30.8 L126.8,41.3 L117.3,43.1 L111.6,40.3Z" fill="#e5dcec"/>
<path d="M90.7,45.0 L102.1,40.3 L107.8,43.1 L102.1,48.8 L92.6,53.6Z" fill="#e5dcec"/>
<path d="M104.0,56.4 L109.7,49.8 L113.5,50.7 L111.6,60.2 L105.9,63.1Z" fill="#e5dcec"/>
<path d="M117.3,83.0 L126.8,77.3 L128.7,77.3 L128.7,93.8 L119.2,93.8Z" fill="#e5dcec"/>
<path d="M113.5,0.4 L121.1,0.4 L119.2,4.2 L114.4,3.3Z" fill="#d1afd5"/>
<path d="M117.3,75.5 L128.7,75.5 L128.7,94.5 L121.1,93.5 L117.3,86.9Z" fill="#e5dcec"/>
<path d="M123.9,79.3 L128.7,79.3 L128.7,85.0 L124.9,85.0Z" fill="#d1afd5"/>
<path d="M83.9,11.7 L80.4,14.6 L76.9,18.1 L72.8,18.7 L70.5,20.5 L73.4,23.4 L76.3,25.7 L78.1,27.5 L78.1,31.6 L74.6,35.1 L70.5,39.2 L70.5,44.8 L69.9,49.5 L67.0,53.0 L65.8,56.5 L62.9,59.4 L62.3,62.3 L63.8,64.1 L66.4,66.4 L65.8,67.6 L63.1,69.9 L63.8,71.1 L66.4,74.0 L65.8,76.3 L63.1,79.8 L63.1,89.6 L60.3,93.1 L57.7,96.0 L54.8,95.7 L52.1,95.0 L51.1,98.3 L51.1,103.0 L53.6,105.3 L54.5,106.7 L51.5,109.4 L51.1,112.3 L53.1,114.7 L56.8,115.3 L58.3,118.2 L56.0,120.5 L61.0,125.2 L64.7,121.7 L70.0,121.9 L74.1,125.2 L77.6,124.6 L78.2,119.3 L78.8,115.8 L82.3,112.6 L86.3,109.1 L83.7,106.7 L82.0,105.6 L86.3,101.6 L86.9,96.0 L86.9,91.9 L89.8,88.4 L86.8,85.7 L84.5,81.9 L81.6,79.3 L78.1,76.3 L75.5,74.0 L76.3,72.6 L78.7,69.9 L76.9,68.2 L71.7,68.2 L71.7,66.4 L72.8,65.2 L74.8,62.9 L71.7,59.4 L72.8,57.6 L75.8,54.1 L78.1,50.6 L81.6,47.7 L82.5,45.0 L83.9,41.5 L86.3,38.0 L82.8,33.9 L82.8,31.0 L87.4,29.2 L91.5,25.2 L93.3,20.5 L94.4,17.0 L89.8,12.1Z" fill="#d280bd" fill-rule="evenodd"/>
<path d="M84.2,12.7 L81.0,15.3 L77.3,19.0 L73.2,19.6 L71.9,20.6 L74.0,22.7 L76.9,25.0 L79.0,27.1 L79.0,32.0 L75.3,35.8 L71.5,39.6 L71.5,44.9 L70.8,49.9 L67.8,53.5 L66.6,57.0 L63.8,59.9 L63.3,62.0 L64.5,63.4 L67.6,66.2 L66.6,68.2 L64.3,70.1 L64.6,70.5 L67.4,73.7 L66.7,76.7 L64.0,80.1 L64.0,89.9 L61.0,93.7 L58.1,97.0 L54.6,96.6 L52.7,96.1 L52.1,98.4 L52.1,102.6 L54.3,104.7 L55.7,106.9 L52.4,109.9 L52.1,112.0 L53.6,113.8 L57.4,114.4 L59.5,118.4 L57.4,120.5 L61.0,123.9 L64.3,120.7 L70.4,121.0 L74.4,124.2 L76.7,123.8 L77.3,119.2 L77.9,115.3 L81.7,111.9 L84.9,109.1 L83.1,107.5 L80.5,105.7 L85.4,101.1 L86.0,95.9 L86.0,91.6 L88.5,88.5 L86.1,86.3 L83.8,82.5 L81.0,80.0 L77.5,77.0 L74.3,74.2 L75.5,72.0 L77.4,70.0 L76.5,69.2 L70.8,69.2 L70.8,66.0 L72.1,64.6 L73.5,62.9 L70.5,59.5 L72.0,57.0 L75.0,53.5 L77.4,50.0 L80.8,47.1 L81.6,44.7 L83.1,41.0 L85.1,38.1 L81.8,34.3 L81.8,30.4 L86.9,28.4 L90.7,24.7 L92.4,20.2 L93.3,17.2 L89.4,13.0Z" fill="#e3449b" fill-rule="evenodd"/>
<path d="M84.3,81.9 L86.3,78.7 L90.3,74.6 L93.9,71.1 L96.8,69.9 L98.5,72.2 L98.5,76.3 L96.8,79.3 L93.3,79.8 L90.3,81.0 L87.4,83.9 L86.8,85.9 L85.5,85.0Z" fill="#d280bd"/>
<path d="M87.2,66.0 L90.0,64.6 L93.0,65.3 L95.0,67.5 L94.6,68.7 L91.5,68.5 L88.5,67.6Z" fill="#d280bd"/>
<path d="M81.2,13.8 L84.7,11.7 L89.3,12.3 L94.6,17.8 L91.1,18.9 L88.2,17.5 L84.7,15.8Z" fill="#d280bd"/>
<path d="M98.0,20.6 L102.4,17.6 L106.8,20.6 L102.4,23.6Z" fill="#e3449b"/>
<path d="M39.7,99.0 L42.1,96.6 L44.5,99.0 L42.1,101.4Z" fill="#d280bd"/>
<path d="M35.7,116.8 L38.2,114.3 L40.7,116.8 L38.2,119.3Z" fill="#d280bd"/>
<path d="M94.3,4.6 L96.8,1.6 L99.5,0.0 L102.0,0.0 L99.2,3.2 L96.6,5.4Z" fill="#d280bd"/>
<path d="M78.9,31.0 L83.6,30.1 L83.8,35.7 L79.5,35.9Z" fill="#d280bd"/>
<path d="M70.4,88.0 L72.9,86.1 L75.4,88.0 L72.9,89.9Z" fill="#f7f4f9"/>
<path d="M70.9,97.2 L72.9,93.9 L74.9,97.2 L72.9,100.5Z" fill="#f7f4f9"/>
<path d="M59.5,105.9 L61.4,104.0 L63.3,105.9 L61.4,107.8Z" fill="#f7f4f9"/>
<path d="M67.3,105.9 L69.3,103.9 L71.3,105.9 L69.3,107.9Z" fill="#f7f4f9"/>
<path d="M85.2,24.6 L88.6,22.0 L92.0,24.6 L88.6,27.2Z" fill="#d280bd"/>
<path d="M87.1,24.6 L88.6,23.4 L90.1,24.6 L88.6,25.8Z" fill="#f7f4f9"/>
<path d="M67.3,63.4 L69.9,60.8 L72.5,63.4 L69.9,66.0Z" fill="#d280bd"/>
<path d="M68.6,63.4 L69.9,62.1 L71.2,63.4 L69.9,64.7Z" fill="#f7f4f9"/>
</g>
<path d="M76.9,18.4 L77.0,17.4 L77.4,16.4 L77.8,15.6 L78.6,15.2 L79.9,15.3 L81.3,15.2 L82.4,15.2 L83.2,16.0 L83.8,16.9 L84.4,17.8 L85.2,18.1 L85.9,18.7 L86.6,17.8 L87.7,17.5 L88.5,17.8 L89.4,18.0 L90.7,18.1 L91.8,18.9 L92.6,19.4 L93.3,19.9 L94.1,20.8 L94.1,21.9 L94.4,20.5 L95.3,19.5 L96.1,19.0 L97.0,18.7 L97.8,19.4 L98.8,19.5 L99.8,20.5 L100.3,21.9 L100.9,23.0 L101.1,24.2 L101.2,25.7 L101.5,27.1 L100.9,28.2 L101.1,29.5 L100.2,30.3 L99.4,31.2 L98.4,31.7 L97.2,31.6 L96.4,32.4 L95.0,33.1 L93.5,33.0 L92.0,32.9 L90.6,33.5 L90.0,34.7 L90.7,35.3 L91.2,36.2 L91.2,37.3 L90.6,38.2 L91.2,39.3 L91.2,40.6 L92.2,41.3 L92.9,42.3 L92.8,43.3 L93.3,44.1 L92.8,45.1 L91.8,45.6 L91.0,44.6 L90.0,43.7 L88.8,44.0 L87.7,44.6 L87.5,45.8 L87.1,47.0 L86.8,48.1 L86.5,49.3 L85.7,50.3 L84.4,50.7 L85.2,51.2 L85.3,52.2 L85.9,53.0 L85.9,54.0 L85.2,55.1 L84.8,56.3 L83.9,57.2 L83.0,58.1 L81.9,58.6 L80.7,58.7 L79.5,58.9 L78.3,59.2 L78.6,60.1 L78.9,61.0 L80.2,61.7 L81.3,62.7 L82.0,63.9 L83.1,64.8 L83.8,66.0 L84.8,66.9 L86.3,67.0 L87.7,67.5 L88.7,67.6 L89.7,67.7 L90.7,67.7 L91.4,68.3 L92.4,68.3 L93.4,68.0 L94.2,67.4 L95.2,68.0 L95.9,68.9 L96.5,70.1 L97.7,70.6 L98.2,69.8 L99.1,69.5 L100.4,69.3 L101.8,69.2 L103.2,69.6 L104.7,69.5 L105.6,70.6 L105.6,72.1 L104.9,73.5 L105.0,74.5 L105.6,75.4 L105.3,76.5 L104.9,77.9 L104.7,79.4 L104.8,80.9 L105.3,82.3 L106.0,83.4 L106.8,84.4 L108.0,84.7 L109.1,84.4 L108.8,85.2 L108.2,85.8 L107.5,86.6 L107.0,87.6 L106.3,88.9 L105.8,90.2 L104.7,90.5 L104.5,89.0 L104.1,87.6 L103.5,87.0 L102.9,86.4 L101.9,86.8 L101.2,87.6 L100.8,86.7 L99.8,86.4 L99.2,85.1 L98.6,83.7 L97.1,83.5 L96.1,83.8 L95.3,84.4 L94.3,85.2 L93.0,85.2 L91.8,85.2 L90.7,85.6 L90.1,87.0 L90.9,87.9 L91.8,88.7 L92.1,89.9 L93.2,90.5 L92.5,91.6 L92.4,92.8 L91.7,93.8 L90.7,94.6 L90.8,95.8 L90.7,96.9 L89.8,97.6 L89.4,98.7 L88.3,99.2 L87.6,99.9 L87.0,100.8 L86.0,101.3 L87.0,101.8 L87.8,102.6 L88.3,103.6 L88.9,104.6 L90.1,105.0 L90.7,106.0 L92.0,106.5 L93.0,107.4 L94.1,107.1 L95.3,106.9 L96.4,107.6 L97.7,107.7 L99.2,107.6 L100.6,108.3 L101.2,109.1 L101.8,110.0 L101.2,110.9 L100.6,111.8 L101.7,112.4 L102.9,112.4 L104.0,112.5 L105.0,112.3 L105.9,111.8 L107.2,112.5 L108.2,113.5 L108.6,114.5 L108.9,115.5 L109.1,116.5 L108.5,117.4 L108.1,118.3 L108.2,119.4 L107.2,120.5 L105.9,121.1 L106.4,122.2 L106.4,123.5 L106.4,125.0 L105.9,126.4 L105.9,127.6 L105.5,128.7 L105.3,129.9 L104.6,130.7 L104.1,131.6 L105.2,132.3 L105.9,133.4 L107.2,133.3 L108.2,134.0 L107.7,135.2 L107.0,136.3 L106.2,137.6 L105.3,138.7 L104.5,139.4 L103.4,139.9 L102.9,141.0 L101.8,141.4 L101.0,142.1 L100.0,142.7 L98.8,142.8 L97.6,142.9 L96.5,143.3 L95.0,143.7 L93.6,143.3 L93.0,141.9 L91.8,141.0 L90.7,140.6 L89.5,140.8 L88.9,141.6 L88.9,142.7 L89.1,143.5 L89.8,144.1 L90.7,144.9 L91.4,145.9 L91.1,147.1 L90.6,148.2 L91.1,149.6 L90.9,151.1 L90.0,152.2 L89.4,153.5 L88.6,154.0 L87.7,153.7 L86.7,153.3 L85.9,152.6 L85.3,151.7 L84.0,151.6 L82.9,151.1 L81.8,150.6 L80.5,150.7 L79.4,150.4 L78.3,149.7 L77.0,149.9 L75.8,149.4 L74.9,148.4 L74.6,147.0 L74.3,145.7 L73.9,144.4 L74.2,143.0 L74.5,141.8 L74.3,140.7 L74.2,139.5 L73.6,138.6 L73.5,137.6 L73.4,136.5 L72.4,136.9 L71.3,137.1 L70.4,136.0 L69.6,134.8 L68.7,133.8 L68.4,132.5 L67.6,131.8 L66.6,131.3 L65.5,131.3 L64.3,131.1 L63.2,130.9 L62.0,130.7 L60.8,130.9 L59.6,130.7 L58.5,130.1 L57.5,129.7 L56.5,129.1 L55.6,128.4 L54.6,128.0 L53.6,128.4 L52.6,128.0 L51.8,128.8 L50.5,128.4 L49.7,129.2 L48.5,129.1 L47.3,129.4 L46.2,129.0 L45.1,128.4 L43.7,128.2 L42.7,127.2 L41.5,126.6 L40.6,125.7 L39.2,125.5 L38.0,125.0 L36.8,125.2 L35.6,125.6 L34.6,126.5 L33.3,126.9 L32.2,127.3 L31.0,127.7 L29.8,127.6 L28.6,127.6 L27.5,128.1 L26.3,128.4 L25.5,129.0 L25.2,129.9 L23.9,129.6 L22.8,129.0 L21.5,128.3 L20.5,127.2 L19.8,126.1 L18.7,125.5 L17.6,125.0 L16.4,125.0 L15.2,125.2 L14.3,124.5 L13.2,124.3 L13.9,123.3 L14.1,122.0 L13.8,121.0 L13.2,120.2 L14.1,119.3 L15.2,118.7 L16.2,118.8 L17.2,118.8 L18.2,119.1 L19.2,118.3 L20.5,118.2 L21.0,116.9 L22.2,116.1 L23.3,115.1 L24.6,114.4 L24.4,113.2 L24.6,112.1 L24.2,110.8 L23.4,109.7 L24.1,109.0 L24.0,108.0 L25.1,107.7 L26.3,107.4 L27.5,106.4 L28.1,105.0 L29.4,104.8 L30.4,103.9 L31.4,102.9 L31.6,101.5 L32.7,101.1 L33.9,101.0 L34.5,100.2 L35.4,99.6 L36.3,99.2 L36.6,97.9 L37.4,96.9 L38.5,96.2 L39.8,96.0 L41.0,95.7 L42.1,95.1 L42.5,94.2 L42.1,93.4 L41.2,92.8 L40.2,92.8 L39.2,92.5 L38.6,91.4 L37.8,90.4 L38.4,89.8 L38.6,89.0 L40.1,88.9 L41.5,89.5 L42.4,89.9 L43.3,90.5 L44.4,90.4 L45.6,90.6 L46.8,90.2 L47.5,91.3 L48.5,92.2 L49.3,92.9 L50.3,93.3 L50.9,94.2 L52.4,94.3 L53.8,93.9 L54.6,93.2 L55.5,92.8 L55.5,91.5 L54.9,90.4 L54.7,89.1 L53.8,88.1 L53.1,87.0 L52.6,85.8 L51.7,84.7 L50.9,83.4 L50.3,82.0 L49.1,81.1 L48.9,79.6 L47.8,78.9 L46.6,78.5 L45.3,78.4 L44.2,78.0 L43.1,77.3 L43.1,76.1 L43.7,75.0 L44.2,74.1 L44.3,73.0 L44.2,72.0 L43.1,71.0 L42.5,69.7 L43.4,68.7 L43.7,67.4 L44.6,66.4 L44.8,65.0 L45.5,63.9 L46.0,62.7 L45.6,61.6 L45.4,60.4 L44.7,59.4 L43.6,58.7 L43.1,57.5 L41.9,57.3 L41.4,55.9 L40.2,55.7 L39.0,55.3 L37.8,55.1 L39.3,54.8 L40.7,54.5 L41.8,54.7 L42.7,54.0 L43.7,53.9 L44.9,53.6 L45.8,52.8 L46.5,54.0 L47.7,54.9 L48.7,54.8 L49.7,54.9 L50.7,55.3 L51.8,54.7 L53.0,54.5 L54.5,54.6 L55.9,55.1 L56.7,55.8 L57.6,56.1 L58.3,56.9 L59.2,56.2 L60.2,55.7 L59.2,54.7 L58.8,53.4 L59.4,52.5 L59.1,51.4 L59.4,50.4 L59.9,49.4 L60.5,48.5 L60.9,47.5 L61.5,46.6 L61.4,45.5 L61.8,44.6 L62.9,43.6 L63.3,42.3 L64.1,41.1 L63.9,40.2 L63.7,39.4 L64.3,38.4 L64.5,37.2 L65.5,36.5 L66.0,35.5 L66.4,34.4 L67.2,33.5 L67.0,32.3 L67.9,31.2 L67.8,30.0 L67.8,29.1 L68.4,28.3 L67.6,27.7 L66.9,27.1 L67.2,26.3 L67.2,25.4 L68.1,25.0 L69.0,24.6 L69.7,25.2 L70.2,26.0 L70.9,24.8 L71.6,23.6 L72.4,22.8 L73.1,21.9 L74.4,21.3 L75.4,20.3 L75.9,19.1Z" fill="none" stroke="#000" stroke-width="0.66" stroke-linejoin="round"/>
</g>
<rect x="0" y="0" width="128.0" height="167.0" fill="none" stroke="#939297" stroke-width="1.0"/>
</g>
<text x="203.5" y="292.8" text-anchor="end">23° N</text>
<text x="203.5" y="332.4" text-anchor="end">22.8° N</text>
<text x="203.5" y="372.0" text-anchor="end">22.6° N</text>
<text x="203.5" y="411.4" text-anchor="end">22.4° N</text>
<text x="260.0" y="449.6" text-anchor="end">88.2° E</text>
<text x="297.5" y="449.6" text-anchor="end">88.4° E</text>
<text x="335.5" y="449.6" text-anchor="end">88.6° E</text>
<g transform="translate(381.5,271.4)">
<clipPath id="c21"><rect x="0" y="0" width="128.0" height="167.0"/></clipPath>
<rect x="0" y="0" width="128.0" height="167.0" fill="#f7f4f9"/>
<g clip-path="url(#c21)"><g filter="url(#bl)" transform="translate(0.1,0.1)">
<path d="M124.5,0.0 L128.0,0.0 L128.0,4.6 L126.0,3.2Z" fill="#d1afd5"/>
<path d="M87.9,23.6 L98.5,21.9 L101.4,26.5 L99.6,31.2 L93.8,33.5 L92.6,40.5 L90.3,45.2 L85.6,47.6 L84.4,42.9 L84.4,33.5 L83.3,28.9Z" fill="#e5dcec"/>
<path d="M61.1,42.9 L66.9,39.4 L70.4,42.9 L69.3,49.9 L65.8,56.5 L59.9,56.5Z" fill="#e5dcec"/>
<path d="M105.9,16.6 L113.5,13.7 L123.0,16.6 L121.1,28.0 L117.3,37.5 L111.6,48.8 L102.1,50.7 L98.3,45.0 L104.0,35.6 L107.8,24.2Z" fill="#e5dcec"/>
<path d="M111.6,18.5 L115.4,17.5 L115.4,28.0 L111.6,28.9Z" fill="#d1afd5"/>
<path d="M103.0,43.1 L107.8,43.1 L105.9,46.9Z" fill="#d1afd5"/>
<path d="M123.0,77.3 L128.7,76.4 L128.7,88.7 L123.9,88.7Z" fill="#e5dcec"/>
<path d="M104.0,99.2 L113.5,98.3 L121.1,104.0 L126.8,111.6 L128.7,119.1 L121.1,115.4 L111.6,107.8 L104.0,104.0Z" fill="#e5dcec"/>
<path d="M123.0,75.5 L128.7,75.5 L128.7,86.9 L124.9,85.0Z" fill="#e5dcec"/>
<path d="M61.8,44.1 L66.0,43.1 L66.0,54.5 L62.2,54.5Z" fill="#e5dcec"/>
<path d="M83.9,11.7 L80.4,14.6 L76.9,18.1 L72.8,18.7 L70.5,20.5 L73.4,23.4 L76.3,25.7 L78.1,27.5 L78.1,31.6 L74.6,35.1 L70.5,39.2 L70.5,44.8 L69.9,49.5 L67.0,53.0 L65.8,56.5 L62.9,59.4 L62.3,62.3 L63.8,64.1 L66.4,66.4 L65.8,67.6 L63.1,69.9 L63.8,71.1 L66.4,74.0 L65.8,76.3 L63.1,79.8 L63.1,89.6 L60.3,93.1 L57.7,96.0 L54.8,95.7 L52.1,95.0 L51.1,98.3 L51.1,103.0 L53.6,105.3 L54.5,106.7 L51.5,109.4 L51.1,112.3 L53.1,114.7 L56.8,115.3 L58.3,118.2 L56.0,120.5 L61.0,125.2 L64.7,121.7 L70.0,121.9 L74.1,125.2 L77.6,124.6 L78.2,119.3 L78.8,115.8 L82.3,112.6 L86.3,109.1 L83.7,106.7 L82.0,105.6 L86.3,101.6 L86.9,96.0 L86.9,91.9 L89.8,88.4 L86.8,85.7 L84.5,81.9 L81.6,79.3 L78.1,76.3 L75.5,74.0 L76.3,72.6 L78.7,69.9 L76.9,68.2 L71.7,68.2 L71.7,66.4 L72.8,65.2 L74.8,62.9 L71.7,59.4 L72.8,57.6 L75.8,54.1 L78.1,50.6 L81.6,47.7 L82.5,45.0 L83.9,41.5 L86.3,38.0 L82.8,33.9 L82.8,31.0 L87.4,29.2 L91.5,25.2 L93.3,20.5 L94.4,17.0 L89.8,12.1Z" fill="#e3449b" fill-rule="evenodd"/>
<path d="M84.2,12.7 L81.0,15.3 L77.3,19.0 L73.2,19.6 L71.9,20.6 L74.0,22.7 L76.9,25.0 L79.0,27.1 L79.0,32.0 L75.3,35.8 L71.5,39.6 L71.5,44.9 L70.8,49.9 L67.8,53.5 L66.6,57.0 L63.8,59.9 L63.3,62.0 L64.5,63.4 L67.6,66.2 L66.6,68.2 L64.3,70.1 L64.6,70.5 L67.4,73.7 L66.7,76.7 L64.0,80.1 L64.0,89.9 L61.0,93.7 L58.1,97.0 L54.6,96.6 L52.7,96.1 L52.1,98.4 L52.1,102.6 L54.3,104.7 L55.7,106.9 L52.4,109.9 L52.1,112.0 L53.6,113.8 L57.4,114.4 L59.5,118.4 L57.4,120.5 L61.0,123.9 L64.3,120.7 L70.4,121.0 L74.4,124.2 L76.7,123.8 L77.3,119.2 L77.9,115.3 L81.7,111.9 L84.9,109.1 L83.1,107.5 L80.5,105.7 L85.4,101.1 L86.0,95.9 L86.0,91.6 L88.5,88.5 L86.1,86.3 L83.8,82.5 L81.0,80.0 L77.5,77.0 L74.3,74.2 L75.5,72.0 L77.4,70.0 L76.5,69.2 L70.8,69.2 L70.8,66.0 L72.1,64.6 L73.5,62.9 L70.5,59.5 L72.0,57.0 L75.0,53.5 L77.4,50.0 L80.8,47.1 L81.6,44.7 L83.1,41.0 L85.1,38.1 L81.8,34.3 L81.8,30.4 L86.9,28.4 L90.7,24.7 L92.4,20.2 L93.3,17.2 L89.4,13.0Z" fill="#d51965" fill-rule="evenodd"/>
<path d="M84.3,81.9 L86.3,78.7 L90.3,74.6 L93.9,71.1 L96.8,69.9 L98.5,72.2 L98.5,76.3 L96.8,79.3 L93.3,79.8 L90.3,81.0 L87.4,83.9 L86.8,85.9 L85.5,85.0Z" fill="#e3449b"/>
<path d="M87.2,66.0 L90.0,64.6 L93.0,65.3 L95.0,67.5 L94.6,68.7 L91.5,68.5 L88.5,67.6Z" fill="#e3449b"/>
<path d="M81.2,13.8 L84.7,11.7 L89.3,12.3 L94.6,17.8 L91.1,18.9 L88.2,17.5 L84.7,15.8Z" fill="#e3449b"/>
<path d="M98.0,20.6 L102.4,17.6 L106.8,20.6 L102.4,23.6Z" fill="#d51965"/>
<path d="M39.7,99.0 L42.1,96.6 L44.5,99.0 L42.1,101.4Z" fill="#d280bd"/>
<path d="M35.7,116.8 L38.2,114.3 L40.7,116.8 L38.2,119.3Z" fill="#d280bd"/>
<path d="M94.3,4.6 L96.8,1.6 L99.5,0.0 L102.0,0.0 L99.2,3.2 L96.6,5.4Z" fill="#e5dcec"/>
<path d="M94.3,2.9 L96.3,1.4 L98.3,2.9 L96.3,4.4Z" fill="#d280bd"/>
<path d="M83.1,15.1 L88.8,14.3 L94.5,19.4 L92.6,28.0 L87.8,28.0 L85.0,22.3Z" fill="#e3449b"/>
<path d="M81.2,81.2 L88.8,89.7 L86.0,96.4 L85.0,104.0 L88.8,109.7 L83.1,114.4 L79.3,111.6 L81.2,104.0 L83.1,96.4Z" fill="#e3449b"/>
<path d="M56.5,118.2 L64.1,113.5 L69.8,114.4 L70.8,122.9 L65.1,121.0 L61.3,125.2Z" fill="#e3449b"/>
<path d="M70.0,88.0 L72.9,85.8 L75.8,88.0 L72.9,90.2Z" fill="#f7f4f9"/>
<path d="M70.5,97.2 L72.9,93.3 L75.3,97.2 L72.9,101.1Z" fill="#f7f4f9"/>
<path d="M59.2,105.9 L61.4,103.7 L63.6,105.9 L61.4,108.1Z" fill="#f7f4f9"/>
<path d="M67.0,105.9 L69.3,103.6 L71.6,105.9 L69.3,108.2Z" fill="#f7f4f9"/>
<path d="M85.2,24.6 L88.6,22.0 L92.0,24.6 L88.6,27.2Z" fill="#d280bd"/>
<path d="M87.1,24.6 L88.6,23.4 L90.1,24.6 L88.6,25.8Z" fill="#f7f4f9"/>
<path d="M67.3,63.4 L69.9,60.8 L72.5,63.4 L69.9,66.0Z" fill="#d280bd"/>
<path d="M68.6,63.4 L69.9,62.1 L71.2,63.4 L69.9,64.7Z" fill="#f7f4f9"/>
</g>
<path d="M76.9,18.5 L77.0,17.5 L77.4,16.5 L77.8,15.7 L78.6,15.3 L79.9,15.4 L81.3,15.3 L82.4,15.3 L83.2,16.1 L83.8,17.0 L84.4,17.9 L85.2,18.2 L85.9,18.8 L86.6,17.9 L87.7,17.6 L88.5,17.9 L89.4,18.1 L90.7,18.2 L91.8,19.0 L92.6,19.5 L93.3,20.0 L94.1,20.9 L94.1,22.0 L94.4,20.6 L95.3,19.6 L96.1,19.1 L97.0,18.8 L97.8,19.5 L98.8,19.6 L99.8,20.6 L100.3,22.0 L100.9,23.1 L101.1,24.3 L101.2,25.8 L101.5,27.2 L100.9,28.3 L101.1,29.6 L100.2,30.4 L99.4,31.3 L98.4,31.8 L97.2,31.7 L96.4,32.5 L95.0,33.2 L93.5,33.1 L92.0,33.0 L90.6,33.6 L90.0,34.8 L90.7,35.4 L91.2,36.3 L91.2,37.4 L90.6,38.3 L91.2,39.4 L91.2,40.7 L92.2,41.4 L92.9,42.4 L92.8,43.4 L93.3,44.2 L92.8,45.2 L91.8,45.7 L91.0,44.7 L90.0,43.8 L88.8,44.1 L87.7,44.7 L87.5,45.9 L87.1,47.1 L86.8,48.2 L86.5,49.4 L85.7,50.4 L84.4,50.8 L85.2,51.3 L85.3,52.3 L85.9,53.1 L85.9,54.1 L85.2,55.2 L84.8,56.4 L83.9,57.3 L83.0,58.2 L81.9,58.7 L80.7,58.8 L79.5,59.0 L78.3,59.3 L78.6,60.2 L78.9,61.1 L80.2,61.8 L81.3,62.8 L82.0,64.0 L83.1,64.9 L83.8,66.1 L84.8,67.0 L86.3,67.1 L87.7,67.6 L88.7,67.7 L89.7,67.8 L90.7,67.8 L91.4,68.4 L92.4,68.4 L93.4,68.1 L94.2,67.5 L95.2,68.1 L95.9,69.0 L96.5,70.2 L97.7,70.7 L98.2,69.9 L99.1,69.6 L100.4,69.4 L101.8,69.3 L103.2,69.7 L104.7,69.6 L105.6,70.7 L105.6,72.2 L104.9,73.6 L105.0,74.6 L105.6,75.5 L105.3,76.6 L104.9,78.0 L104.7,79.5 L104.8,81.0 L105.3,82.4 L106.0,83.5 L106.8,84.5 L108.0,84.8 L109.1,84.5 L108.8,85.3 L108.2,85.9 L107.5,86.7 L107.0,87.7 L106.3,89.0 L105.8,90.3 L104.7,90.6 L104.5,89.1 L104.1,87.7 L103.5,87.1 L102.9,86.5 L101.9,86.9 L101.2,87.7 L100.8,86.8 L99.8,86.5 L99.2,85.2 L98.6,83.8 L97.1,83.6 L96.1,83.9 L95.3,84.5 L94.3,85.3 L93.0,85.3 L91.8,85.3 L90.7,85.7 L90.1,87.1 L90.9,88.0 L91.8,88.8 L92.1,90.0 L93.2,90.6 L92.5,91.7 L92.4,92.9 L91.7,93.9 L90.7,94.7 L90.8,95.9 L90.7,97.0 L89.8,97.7 L89.4,98.8 L88.3,99.3 L87.6,100.0 L87.0,100.9 L86.0,101.4 L87.0,101.9 L87.8,102.7 L88.3,103.7 L88.9,104.7 L90.1,105.1 L90.7,106.1 L92.0,106.6 L93.0,107.5 L94.1,107.2 L95.3,107.0 L96.4,107.7 L97.7,107.8 L99.2,107.7 L100.6,108.4 L101.2,109.2 L101.8,110.1 L101.2,111.0 L100.6,111.9 L101.7,112.5 L102.9,112.5 L104.0,112.6 L105.0,112.4 L105.9,111.9 L107.2,112.6 L108.2,113.6 L108.6,114.6 L108.9,115.6 L109.1,116.6 L108.5,117.5 L108.1,118.4 L108.2,119.5 L107.2,120.6 L105.9,121.2 L106.4,122.3 L106.4,123.6 L106.4,125.1 L105.9,126.5 L105.9,127.7 L105.5,128.8 L105.3,130.0 L104.6,130.8 L104.1,131.7 L105.2,132.4 L105.9,133.5 L107.2,133.4 L108.2,134.1 L107.7,135.3 L107.0,136.4 L106.2,137.7 L105.3,138.8 L104.5,139.5 L103.4,140.0 L102.9,141.1 L101.8,141.5 L101.0,142.2 L100.0,142.8 L98.8,142.9 L97.6,143.0 L96.5,143.4 L95.0,143.8 L93.6,143.4 L93.0,142.0 L91.8,141.1 L90.7,140.7 L89.5,140.9 L88.9,141.7 L88.9,142.8 L89.1,143.6 L89.8,144.2 L90.7,145.0 L91.4,146.0 L91.1,147.2 L90.6,148.3 L91.1,149.7 L90.9,151.2 L90.0,152.3 L89.4,153.6 L88.6,154.1 L87.7,153.8 L86.7,153.4 L85.9,152.7 L85.3,151.8 L84.0,151.7 L82.9,151.2 L81.8,150.7 L80.5,150.8 L79.4,150.5 L78.3,149.8 L77.0,150.0 L75.8,149.5 L74.9,148.5 L74.6,147.1 L74.3,145.8 L73.9,144.5 L74.2,143.1 L74.5,141.9 L74.3,140.8 L74.2,139.6 L73.6,138.7 L73.5,137.7 L73.4,136.6 L72.4,137.0 L71.3,137.2 L70.4,136.1 L69.6,134.9 L68.7,133.9 L68.4,132.6 L67.6,131.9 L66.6,131.4 L65.5,131.4 L64.3,131.2 L63.2,131.0 L62.0,130.8 L60.8,131.0 L59.6,130.8 L58.5,130.2 L57.5,129.8 L56.5,129.2 L55.6,128.5 L54.6,128.1 L53.6,128.5 L52.6,128.1 L51.8,128.9 L50.5,128.5 L49.7,129.3 L48.5,129.2 L47.3,129.5 L46.2,129.1 L45.1,128.5 L43.7,128.3 L42.7,127.3 L41.5,126.7 L40.6,125.8 L39.2,125.6 L38.0,125.1 L36.8,125.3 L35.6,125.7 L34.6,126.6 L33.3,127.0 L32.2,127.4 L31.0,127.8 L29.8,127.7 L28.6,127.7 L27.5,128.2 L26.3,128.5 L25.5,129.1 L25.2,130.0 L23.9,129.7 L22.8,129.1 L21.5,128.4 L20.5,127.3 L19.8,126.2 L18.7,125.6 L17.6,125.1 L16.4,125.1 L15.2,125.3 L14.3,124.6 L13.2,124.4 L13.9,123.4 L14.1,122.1 L13.8,121.1 L13.2,120.3 L14.1,119.4 L15.2,118.8 L16.2,118.9 L17.2,118.9 L18.2,119.2 L19.2,118.4 L20.5,118.3 L21.0,117.0 L22.2,116.2 L23.3,115.2 L24.6,114.5 L24.4,113.4 L24.6,112.2 L24.2,110.9 L23.4,109.8 L24.1,109.1 L24.0,108.1 L25.1,107.8 L26.3,107.5 L27.5,106.5 L28.1,105.1 L29.4,104.9 L30.4,104.0 L31.4,103.0 L31.6,101.6 L32.7,101.2 L33.9,101.1 L34.5,100.3 L35.4,99.7 L36.3,99.3 L36.6,98.0 L37.4,97.0 L38.5,96.3 L39.8,96.1 L41.0,95.8 L42.1,95.2 L42.5,94.4 L42.1,93.5 L41.2,92.9 L40.2,92.9 L39.2,92.6 L38.6,91.5 L37.8,90.5 L38.4,89.9 L38.6,89.1 L40.1,89.0 L41.5,89.6 L42.4,90.0 L43.3,90.6 L44.4,90.5 L45.6,90.7 L46.8,90.3 L47.5,91.4 L48.5,92.3 L49.3,93.0 L50.3,93.4 L50.9,94.3 L52.4,94.4 L53.8,94.0 L54.6,93.3 L55.5,92.9 L55.5,91.6 L54.9,90.5 L54.7,89.2 L53.8,88.2 L53.1,87.1 L52.6,85.9 L51.7,84.8 L50.9,83.5 L50.3,82.1 L49.1,81.2 L48.9,79.7 L47.8,79.0 L46.6,78.6 L45.3,78.5 L44.2,78.1 L43.1,77.4 L43.1,76.2 L43.7,75.1 L44.2,74.2 L44.3,73.1 L44.2,72.1 L43.1,71.1 L42.5,69.8 L43.4,68.8 L43.7,67.5 L44.6,66.5 L44.8,65.1 L45.5,64.0 L46.0,62.8 L45.6,61.7 L45.4,60.5 L44.7,59.5 L43.6,58.8 L43.1,57.6 L41.9,57.4 L41.4,56.0 L40.2,55.8 L39.0,55.4 L37.8,55.2 L39.3,54.9 L40.7,54.6 L41.8,54.8 L42.7,54.1 L43.7,54.0 L44.9,53.7 L45.8,52.9 L46.5,54.1 L47.7,55.0 L48.7,54.9 L49.7,55.0 L50.7,55.4 L51.8,54.8 L53.0,54.6 L54.5,54.7 L55.9,55.2 L56.7,55.9 L57.6,56.2 L58.3,57.0 L59.2,56.3 L60.2,55.8 L59.2,54.8 L58.8,53.5 L59.4,52.6 L59.1,51.5 L59.4,50.5 L59.9,49.5 L60.5,48.6 L60.9,47.6 L61.5,46.7 L61.4,45.6 L61.8,44.7 L62.9,43.7 L63.3,42.4 L64.1,41.2 L63.9,40.3 L63.7,39.5 L64.3,38.5 L64.5,37.3 L65.5,36.6 L66.0,35.6 L66.4,34.5 L67.2,33.6 L67.0,32.4 L67.9,31.3 L67.8,30.1 L67.8,29.2 L68.4,28.4 L67.6,27.8 L66.9,27.2 L67.2,26.4 L67.2,25.5 L68.1,25.1 L69.0,24.7 L69.7,25.3 L70.2,26.1 L70.9,24.9 L71.6,23.7 L72.4,22.9 L73.1,22.0 L74.4,21.4 L75.4,20.4 L75.9,19.2Z" fill="none" stroke="#000" stroke-width="0.66" stroke-linejoin="round"/>
</g>
<rect x="0" y="0" width="128.0" height="167.0" fill="none" stroke="#939297" stroke-width="1.0"/>
</g>
<text x="377.5" y="292.8" text-anchor="end">23° N</text>
<text x="377.5" y="332.4" text-anchor="end">22.8° N</text>
<text x="377.5" y="372.0" text-anchor="end">22.6° N</text>
<text x="377.5" y="411.4" text-anchor="end">22.4° N</text>
<text x="434.0" y="449.6" text-anchor="end">88.2° E</text>
<text x="471.5" y="449.6" text-anchor="end">88.4° E</text>
<text x="509.5" y="449.6" text-anchor="end">88.6° E</text>
<g transform="translate(556.4,271.5)">
<clipPath id="c31"><rect x="0" y="0" width="127.9" height="166.8"/></clipPath>
<rect x="0" y="0" width="127.9" height="166.8" fill="#f7f4f9"/>
<g clip-path="url(#c31)"><g filter="url(#bl)" transform="translate(-0.4,0.2)">
<path d="M0.5,1.4 L81.2,1.4 L83.1,9.0 L79.3,14.7 L75.5,18.5 L67.9,28.0 L66.0,32.7 L56.5,29.9 L48.9,24.2 L37.6,17.5 L18.6,15.6 L0.5,12.8Z" fill="#e5dcec"/>
<path d="M0.5,3.3 L14.8,4.2 L19.5,7.1 L14.8,9.9 L0.5,9.9Z" fill="#d1afd5"/>
<path d="M48.0,9.9 L54.6,7.1 L58.4,10.9 L56.5,15.6 L49.9,16.6Z" fill="#d1afd5"/>
<path d="M0.5,31.8 L11.0,32.7 L22.4,38.4 L31.9,46.0 L37.6,53.6 L48.9,55.5 L58.4,58.3 L62.2,64.0 L60.3,68.8 L52.7,67.8 L45.1,62.1 L35.7,56.4 L28.1,50.7 L20.5,45.0 L11.0,41.3 L0.5,40.3Z" fill="#e5dcec"/>
<path d="M98.3,7.1 L105.9,2.3 L129.6,2.3 L129.6,64.0 L113.5,67.8 L105.9,62.1 L105.9,54.5 L96.4,52.6 L94.5,45.0 L102.1,37.5 L107.8,31.8 L109.7,24.2 L105.9,16.6 L100.2,12.8Z" fill="#e5dcec"/>
<path d="M111.6,14.7 L117.3,10.9 L129.6,9.0 L129.6,43.1 L123.0,45.0 L117.3,46.9 L113.5,41.3 L107.8,35.6 L111.6,28.0 L113.5,20.4Z" fill="#d1afd5"/>
<path d="M121.1,16.6 L129.6,14.7 L129.6,24.2 L123.0,25.1Z" fill="#d280bd"/>
<path d="M118.2,33.7 L122.0,34.6 L122.6,38.4 L118.8,38.4Z" fill="#d280bd"/>
<path d="M120.3,47.9 L123.9,43.7 L127.5,47.9 L123.9,52.1Z" fill="#f7f4f9"/>
<path d="M95.6,47.9 L99.2,44.3 L102.8,47.9 L99.2,51.5Z" fill="#d1afd5"/>
<path d="M102.7,8.0 L105.3,5.4 L107.9,8.0 L105.3,10.6Z" fill="#d1afd5"/>
<path d="M87.4,67.0 L90.3,68.2 L93.3,68.9 L95.4,70.5 L93.9,71.1 L90.3,74.6 L86.3,78.7 L84.4,81.8 L81.6,79.3 L78.1,76.3 L75.5,74.0 L76.3,72.6 L78.7,69.9 L76.9,68.2 L71.7,68.2 L71.7,66.4 L72.8,65.2 L74.8,62.9 L71.7,59.4 L72.8,57.6 L75.8,54.1 L78.1,50.6 L81.6,47.7 L82.5,45.0 L83.9,41.5 L86.3,38.0 L82.8,33.9 L82.8,31.0 L87.4,29.2 L91.5,25.2 L93.3,20.5 L94.4,17.0 L89.8,12.1 L83.9,11.7 L80.4,14.6 L76.9,18.1 L72.8,18.7 L70.5,20.5 L73.4,23.4 L76.3,25.7 L78.1,27.5 L78.1,31.6 L74.6,35.1 L70.5,39.2 L70.5,44.8 L69.9,49.5 L67.0,53.0 L65.8,56.5 L62.9,59.4 L62.3,62.3 L63.8,64.1 L66.4,66.4 L65.8,67.6 L63.1,69.9 L63.8,71.1 L66.4,74.0 L65.8,76.3 L63.1,79.8 L63.1,89.6 L60.3,93.1 L57.7,96.0 L54.8,95.7 L52.1,95.0 L51.1,98.3 L51.1,103.0 L53.6,105.3 L54.5,106.7 L51.5,109.4 L51.1,112.3 L53.1,114.7 L56.8,115.3 L58.3,118.2 L56.0,120.5 L61.0,125.2 L64.7,121.7 L70.0,121.9 L74.1,125.2 L77.6,124.6 L78.2,119.3 L78.8,115.8 L82.3,112.6 L86.3,109.1 L83.7,106.7 L82.0,105.6 L86.3,101.6 L86.9,96.0 L86.9,91.9 L89.8,88.4 L86.8,85.7 L87.4,83.9 L90.3,81.0 L93.3,79.8 L96.8,79.3 L98.5,76.3 L98.5,72.2 L96.9,70.1 L96.8,69.6 L93.9,66.4 L90.3,64.4 L86.8,65.2Z" fill="#e3449b" fill-rule="evenodd"/>
<path d="M87.7,66.7 L90.4,67.9 L93.4,68.6 L96.0,70.6 L94.1,71.4 L90.5,74.8 L86.6,78.9 L84.4,82.3 L81.4,79.6 L77.9,76.6 L75.1,74.1 L76.0,72.4 L78.2,69.9 L76.8,68.5 L71.4,68.5 L71.4,66.3 L72.5,65.0 L74.4,62.9 L71.3,59.4 L72.5,57.4 L75.5,53.9 L77.8,50.4 L81.3,47.5 L82.2,44.9 L83.6,41.3 L85.9,38.0 L82.5,34.0 L82.5,30.8 L87.2,28.9 L91.2,25.0 L93.0,20.4 L94.0,17.1 L89.6,12.4 L84.0,12.0 L80.6,14.8 L77.1,18.4 L72.9,19.0 L71.0,20.5 L73.6,23.1 L76.5,25.4 L78.4,27.4 L78.4,31.7 L74.8,35.3 L70.8,39.3 L70.8,44.8 L70.2,49.6 L67.3,53.2 L66.1,56.7 L63.2,59.6 L62.7,62.2 L64.0,63.9 L66.8,66.3 L66.1,67.8 L63.5,70.0 L64.1,70.9 L66.8,73.9 L66.1,76.5 L63.4,79.9 L63.4,89.7 L60.6,93.3 L57.8,96.4 L54.7,96.0 L52.3,95.4 L51.4,98.4 L51.4,102.9 L53.9,105.1 L54.9,106.8 L51.8,109.6 L51.5,112.2 L53.3,114.4 L57.0,115.0 L58.7,118.3 L56.5,120.5 L61.0,124.7 L64.6,121.4 L70.1,121.6 L74.2,124.8 L77.3,124.3 L77.9,119.3 L78.5,115.6 L82.1,112.3 L85.8,109.1 L83.5,107.0 L81.5,105.6 L86.0,101.4 L86.6,96.0 L86.6,91.8 L89.3,88.4 L86.5,85.9 L87.1,83.7 L90.1,80.7 L93.2,79.5 L96.6,79.0 L98.2,76.2 L98.2,72.3 L96.6,70.2 L96.5,69.8 L93.7,66.7 L90.2,64.8 L87.2,65.4Z" fill="#d51965" fill-rule="evenodd"/>
<path d="M88.0,66.4 L90.5,67.5 L93.6,68.2 L96.2,70.2 L96.1,70.0 L93.4,67.0 L90.2,65.2 L87.8,65.7ZM96.5,70.8 L94.3,71.7 L90.8,75.1 L86.9,79.2 L84.5,82.9 L81.1,79.9 L77.6,76.9 L74.5,74.2 L75.7,72.2 L77.7,69.9 L76.6,69.0 L71.0,69.0 L71.0,66.1 L72.2,64.7 L73.8,62.9 L70.8,59.5 L72.2,57.2 L75.2,53.6 L77.5,50.1 L81.0,47.3 L81.8,44.7 L83.2,41.1 L85.4,38.0 L82.0,34.2 L82.0,30.5 L87.0,28.6 L90.9,24.8 L92.6,20.3 L93.6,17.2 L89.5,12.8 L84.1,12.5 L80.9,15.2 L77.3,18.8 L73.1,19.4 L71.6,20.6 L73.9,22.8 L76.8,25.1 L78.8,27.2 L78.8,31.9 L75.1,35.6 L71.2,39.5 L71.2,44.8 L70.6,49.8 L67.7,53.4 L66.5,56.9 L63.6,59.8 L63.1,62.1 L64.3,63.6 L67.3,66.2 L66.4,68.1 L64.1,70.1 L64.4,70.7 L67.2,73.8 L66.5,76.6 L63.9,80.1 L63.9,89.9 L60.9,93.6 L58.0,96.8 L54.7,96.4 L52.6,95.9 L51.9,98.4 L51.9,102.7 L54.2,104.8 L55.5,106.8 L52.2,109.8 L51.9,112.1 L53.5,114.0 L57.3,114.6 L59.2,118.3 L57.1,120.5 L61.0,124.2 L64.4,120.9 L70.3,121.2 L74.3,124.4 L76.9,124.0 L77.5,119.2 L78.1,115.4 L81.8,112.0 L85.2,109.1 L83.2,107.3 L80.8,105.7 L85.6,101.2 L86.2,96.0 L86.2,91.6 L88.8,88.5 L86.0,86.0 L86.7,83.5 L89.9,80.4 L93.1,79.1 L96.3,78.6 L97.8,76.1 L97.8,72.4Z" fill="#a10346" fill-rule="evenodd"/>
<path d="M98.0,20.6 L102.4,17.6 L106.8,20.6 L102.4,23.6Z" fill="#a10346"/>
<path d="M39.7,99.0 L42.1,96.6 L44.5,99.0 L42.1,101.4Z" fill="#d51965"/>
<path d="M35.7,116.8 L38.2,114.3 L40.7,116.8 L38.2,119.3Z" fill="#d51965"/>
<path d="M94.3,4.6 L96.8,1.6 L99.5,0.0 L102.0,0.0 L99.2,3.2 L96.6,5.4Z" fill="#a10346"/>
<path d="M70.3,88.0 L72.9,86.0 L75.5,88.0 L72.9,90.0Z" fill="#f7f4f9"/>
<path d="M70.7,97.2 L72.9,93.7 L75.1,97.2 L72.9,100.7Z" fill="#f7f4f9"/>
<path d="M59.4,105.9 L61.4,103.9 L63.4,105.9 L61.4,107.9Z" fill="#f7f4f9"/>
<path d="M67.2,105.9 L69.3,103.8 L71.4,105.9 L69.3,108.0Z" fill="#f7f4f9"/>
<path d="M85.2,24.6 L88.6,22.0 L92.0,24.6 L88.6,27.2Z" fill="#e3449b"/>
<path d="M67.3,63.4 L69.9,60.8 L72.5,63.4 L69.9,66.0Z" fill="#e3449b"/>
<path d="M68.6,63.4 L69.9,62.1 L71.2,63.4 L69.9,64.7Z" fill="#f7f4f9"/>
</g>
<path d="M76.5,18.6 L76.6,17.6 L77.0,16.6 L77.4,15.8 L78.2,15.4 L79.5,15.5 L80.9,15.4 L82.0,15.4 L82.8,16.2 L83.4,17.1 L84.0,18.0 L84.8,18.3 L85.5,18.9 L86.2,18.0 L87.3,17.7 L88.1,18.0 L89.0,18.2 L90.3,18.3 L91.4,19.1 L92.2,19.6 L92.9,20.1 L93.7,21.0 L93.7,22.1 L94.0,20.7 L94.9,19.7 L95.7,19.2 L96.6,18.9 L97.4,19.6 L98.4,19.7 L99.4,20.7 L99.9,22.1 L100.5,23.2 L100.7,24.4 L100.8,25.9 L101.1,27.3 L100.5,28.4 L100.7,29.7 L99.8,30.5 L99.0,31.4 L98.0,31.9 L96.8,31.8 L96.0,32.6 L94.6,33.3 L93.1,33.2 L91.6,33.1 L90.2,33.7 L89.6,34.9 L90.3,35.5 L90.8,36.4 L90.8,37.5 L90.2,38.4 L90.8,39.5 L90.8,40.8 L91.8,41.5 L92.5,42.5 L92.4,43.5 L92.9,44.3 L92.4,45.3 L91.4,45.8 L90.6,44.8 L89.6,43.9 L88.4,44.2 L87.3,44.8 L87.1,46.0 L86.7,47.2 L86.4,48.3 L86.1,49.5 L85.3,50.5 L84.0,50.9 L84.8,51.4 L84.9,52.4 L85.5,53.2 L85.5,54.2 L84.8,55.3 L84.4,56.5 L83.5,57.4 L82.6,58.3 L81.5,58.8 L80.3,58.9 L79.1,59.1 L77.9,59.4 L78.2,60.3 L78.5,61.2 L79.8,61.9 L80.9,62.9 L81.6,64.1 L82.7,65.0 L83.4,66.2 L84.4,67.1 L85.9,67.2 L87.3,67.7 L88.3,67.8 L89.3,67.9 L90.3,67.9 L91.0,68.5 L92.0,68.5 L93.0,68.2 L93.8,67.6 L94.8,68.2 L95.5,69.1 L96.1,70.3 L97.3,70.8 L97.8,70.0 L98.7,69.7 L100.0,69.5 L101.4,69.4 L102.8,69.8 L104.3,69.7 L105.2,70.8 L105.2,72.3 L104.5,73.7 L104.6,74.7 L105.2,75.6 L104.9,76.7 L104.5,78.1 L104.3,79.6 L104.4,81.1 L104.9,82.5 L105.6,83.6 L106.4,84.6 L107.6,84.9 L108.7,84.6 L108.4,85.4 L107.8,86.0 L107.1,86.8 L106.6,87.8 L105.9,89.1 L105.4,90.4 L104.3,90.7 L104.1,89.2 L103.7,87.8 L103.1,87.2 L102.5,86.6 L101.5,87.0 L100.8,87.8 L100.4,86.9 L99.4,86.6 L98.8,85.3 L98.2,83.9 L96.7,83.7 L95.7,84.0 L94.9,84.6 L93.9,85.4 L92.6,85.4 L91.4,85.4 L90.3,85.8 L89.7,87.2 L90.5,88.1 L91.4,88.9 L91.7,90.1 L92.8,90.7 L92.1,91.8 L92.0,93.0 L91.3,94.0 L90.3,94.8 L90.4,96.0 L90.3,97.1 L89.4,97.8 L89.0,98.9 L87.9,99.4 L87.2,100.1 L86.6,101.0 L85.6,101.5 L86.6,102.0 L87.4,102.8 L87.9,103.8 L88.5,104.8 L89.7,105.2 L90.3,106.2 L91.6,106.7 L92.6,107.6 L93.7,107.3 L94.9,107.1 L96.0,107.8 L97.3,107.9 L98.8,107.8 L100.2,108.5 L100.8,109.3 L101.4,110.2 L100.8,111.1 L100.2,112.0 L101.3,112.6 L102.5,112.6 L103.6,112.7 L104.6,112.5 L105.5,112.0 L106.8,112.7 L107.8,113.7 L108.2,114.7 L108.5,115.7 L108.7,116.7 L108.1,117.6 L107.7,118.5 L107.8,119.6 L106.8,120.7 L105.5,121.3 L106.0,122.4 L106.0,123.7 L106.0,125.2 L105.5,126.6 L105.5,127.8 L105.1,128.9 L104.9,130.1 L104.2,130.9 L103.7,131.8 L104.8,132.5 L105.5,133.6 L106.8,133.5 L107.8,134.2 L107.3,135.4 L106.6,136.5 L105.8,137.8 L104.9,138.9 L104.1,139.6 L103.0,140.1 L102.5,141.2 L101.4,141.6 L100.6,142.3 L99.6,142.9 L98.4,143.0 L97.2,143.1 L96.1,143.5 L94.6,143.9 L93.2,143.5 L92.6,142.1 L91.4,141.2 L90.3,140.8 L89.1,141.0 L88.5,141.8 L88.5,142.9 L88.7,143.7 L89.4,144.3 L90.3,145.1 L91.0,146.1 L90.7,147.3 L90.2,148.4 L90.7,149.8 L90.5,151.3 L89.6,152.4 L89.0,153.7 L88.2,154.2 L87.3,153.9 L86.3,153.5 L85.5,152.8 L84.9,151.9 L83.6,151.8 L82.5,151.3 L81.4,150.8 L80.1,150.9 L79.0,150.6 L77.9,149.9 L76.6,150.1 L75.4,149.6 L74.5,148.6 L74.2,147.2 L73.9,145.9 L73.5,144.6 L73.8,143.2 L74.1,142.0 L73.9,140.9 L73.8,139.7 L73.2,138.8 L73.1,137.8 L73.0,136.7 L72.0,137.1 L70.9,137.3 L70.0,136.2 L69.2,135.0 L68.3,134.0 L68.0,132.7 L67.2,132.0 L66.2,131.5 L65.1,131.5 L63.9,131.3 L62.8,131.1 L61.6,130.9 L60.4,131.1 L59.2,130.9 L58.1,130.3 L57.1,129.9 L56.1,129.3 L55.2,128.6 L54.2,128.2 L53.2,128.6 L52.2,128.2 L51.4,129.0 L50.1,128.6 L49.3,129.4 L48.1,129.3 L46.9,129.6 L45.8,129.2 L44.7,128.6 L43.3,128.4 L42.3,127.4 L41.1,126.8 L40.2,125.9 L38.8,125.7 L37.6,125.2 L36.4,125.4 L35.2,125.8 L34.2,126.7 L32.9,127.1 L31.8,127.5 L30.6,127.9 L29.4,127.8 L28.2,127.8 L27.1,128.3 L25.9,128.6 L25.1,129.2 L24.8,130.1 L23.5,129.8 L22.4,129.2 L21.1,128.5 L20.1,127.4 L19.4,126.3 L18.3,125.7 L17.2,125.2 L16.0,125.2 L14.8,125.4 L13.9,124.7 L12.8,124.5 L13.5,123.5 L13.7,122.2 L13.4,121.2 L12.8,120.4 L13.7,119.5 L14.8,118.9 L15.8,119.0 L16.8,119.0 L17.8,119.3 L18.8,118.5 L20.1,118.4 L20.6,117.1 L21.8,116.3 L22.9,115.3 L24.2,114.6 L24.0,113.5 L24.2,112.3 L23.8,111.0 L23.0,109.9 L23.7,109.2 L23.6,108.2 L24.7,107.9 L25.9,107.6 L27.1,106.6 L27.7,105.2 L29.0,105.0 L30.0,104.1 L31.0,103.1 L31.2,101.7 L32.3,101.3 L33.5,101.2 L34.1,100.4 L35.0,99.8 L35.9,99.4 L36.2,98.1 L37.0,97.1 L38.1,96.4 L39.4,96.2 L40.6,95.9 L41.7,95.3 L42.1,94.5 L41.7,93.6 L40.8,93.0 L39.8,93.0 L38.8,92.7 L38.2,91.6 L37.4,90.6 L38.0,90.0 L38.2,89.2 L39.7,89.1 L41.1,89.7 L42.0,90.1 L42.9,90.7 L44.0,90.6 L45.2,90.8 L46.4,90.4 L47.1,91.5 L48.1,92.4 L48.9,93.1 L49.9,93.5 L50.5,94.4 L52.0,94.5 L53.4,94.1 L54.2,93.4 L55.1,93.0 L55.1,91.7 L54.5,90.6 L54.3,89.3 L53.4,88.3 L52.7,87.2 L52.2,86.0 L51.3,84.9 L50.5,83.6 L49.9,82.2 L48.7,81.3 L48.5,79.8 L47.4,79.1 L46.2,78.7 L44.9,78.6 L43.8,78.2 L42.7,77.5 L42.7,76.3 L43.3,75.2 L43.8,74.3 L43.9,73.2 L43.8,72.2 L42.7,71.2 L42.1,69.9 L43.0,68.9 L43.3,67.6 L44.2,66.6 L44.4,65.2 L45.1,64.1 L45.6,62.9 L45.2,61.8 L45.0,60.6 L44.3,59.6 L43.2,58.9 L42.7,57.7 L41.5,57.5 L41.0,56.1 L39.8,55.9 L38.6,55.5 L37.4,55.3 L38.9,55.0 L40.3,54.7 L41.4,54.9 L42.3,54.2 L43.3,54.1 L44.5,53.8 L45.4,53.0 L46.1,54.2 L47.3,55.1 L48.3,55.0 L49.3,55.1 L50.3,55.5 L51.4,54.9 L52.6,54.7 L54.1,54.8 L55.5,55.3 L56.3,56.0 L57.2,56.3 L57.9,57.1 L58.8,56.4 L59.8,55.9 L58.8,54.9 L58.4,53.6 L59.0,52.7 L58.7,51.6 L59.0,50.6 L59.5,49.6 L60.1,48.7 L60.5,47.7 L61.1,46.8 L61.0,45.7 L61.4,44.8 L62.5,43.8 L62.9,42.5 L63.7,41.3 L63.5,40.4 L63.3,39.6 L63.9,38.6 L64.1,37.4 L65.1,36.7 L65.6,35.7 L66.0,34.6 L66.8,33.7 L66.6,32.5 L67.5,31.4 L67.4,30.2 L67.4,29.3 L68.0,28.5 L67.2,27.9 L66.5,27.3 L66.8,26.5 L66.8,25.6 L67.7,25.2 L68.6,24.8 L69.3,25.4 L69.8,26.2 L70.5,25.0 L71.2,23.8 L72.0,23.0 L72.7,22.1 L74.0,21.5 L75.0,20.5 L75.5,19.3Z" fill="none" stroke="#000" stroke-width="0.66" stroke-linejoin="round"/>
</g>
<rect x="0" y="0" width="127.9" height="166.8" fill="none" stroke="#939297" stroke-width="1.0"/>
</g>
<text x="552.4" y="292.9" text-anchor="end">23° N</text>
<text x="552.4" y="332.5" text-anchor="end">22.8° N</text>
<text x="552.4" y="372.1" text-anchor="end">22.6° N</text>
<text x="552.4" y="411.5" text-anchor="end">22.4° N</text>
<text x="608.9" y="449.5" text-anchor="end">88.2° E</text>
<text x="646.4" y="449.5" text-anchor="end">88.4° E</text>
<text x="684.4" y="449.5" text-anchor="end">88.6° E</text>
<text x="32.8" y="9.4" class="pl">a</text>
<text x="207.0" y="9.4" class="pl">b</text>
<text x="381.0" y="9.4" class="pl">c</text>
<text x="555.4" y="9.4" class="pl">d</text>
<g>
<path d="M209.30,202.3 L196.10,206.9 L209.30,211.5 Z" fill="#fbfafc"/>
<rect x="209.30" y="202.3" width="34.37" height="9.2" fill="#f7f4f9"/>
<rect x="243.37" y="202.3" width="34.37" height="9.2" fill="#e5dcec"/>
<rect x="277.44" y="202.3" width="34.37" height="9.2" fill="#d1afd5"/>
<rect x="311.51" y="202.3" width="34.37" height="9.2" fill="#d280bd"/>
<rect x="345.58" y="202.3" width="34.37" height="9.2" fill="#e3449b"/>
<rect x="379.65" y="202.3" width="34.37" height="9.2" fill="#d51965"/>
<rect x="413.72" y="202.3" width="34.37" height="9.2" fill="#a10346"/>
<rect x="447.79" y="202.3" width="34.37" height="9.2" fill="#67001f"/>
<path d="M481.86,202.3 L495.06,206.9 L481.86,211.5 Z" fill="#67001f"/>
<path d="M209.30,202.3 L481.86,202.3 L495.06,206.9 L481.86,211.5 L209.30,211.5 L196.10,206.9 Z" fill="none" stroke="#6e6e6e" stroke-width="0.6" stroke-linejoin="miter"/>
<line x1="209.30" y1="211.5" x2="209.30" y2="214.8" stroke="#444" stroke-width="0.6"/>
<text x="209.10" y="224.5" text-anchor="middle" class="tk">0</text>
<line x1="243.37" y1="211.5" x2="243.37" y2="214.8" stroke="#444" stroke-width="0.6"/>
<text x="243.17" y="224.5" text-anchor="middle" class="tk">25</text>
<line x1="277.44" y1="211.5" x2="277.44" y2="214.8" stroke="#444" stroke-width="0.6"/>
<text x="277.24" y="224.5" text-anchor="middle" class="tk">50</text>
<line x1="311.51" y1="211.5" x2="311.51" y2="214.8" stroke="#444" stroke-width="0.6"/>
<text x="311.31" y="224.5" text-anchor="middle" class="tk">100</text>
<line x1="345.58" y1="211.5" x2="345.58" y2="214.8" stroke="#444" stroke-width="0.6"/>
<text x="345.38" y="224.5" text-anchor="middle" class="tk">150</text>
<line x1="379.65" y1="211.5" x2="379.65" y2="214.8" stroke="#444" stroke-width="0.6"/>
<text x="379.45" y="224.5" text-anchor="middle" class="tk">200</text>
<line x1="413.72" y1="211.5" x2="413.72" y2="214.8" stroke="#444" stroke-width="0.6"/>
<text x="413.52" y="224.5" text-anchor="middle" class="tk">250</text>
<line x1="447.79" y1="211.5" x2="447.79" y2="214.8" stroke="#444" stroke-width="0.6"/>
<text x="447.59" y="224.5" text-anchor="middle" class="tk">300</text>
<line x1="481.86" y1="211.5" x2="481.86" y2="214.8" stroke="#444" stroke-width="0.6"/>
<text x="481.66" y="224.5" text-anchor="middle" class="tk">350</text>
<text x="346.5" y="238.7" text-anchor="middle" class="ct">Δ<tspan font-style="italic">Q</tspan><tspan dy="2.3" font-size="6.5">net</tspan><tspan dy="-2.3"> from CTRL (W m</tspan><tspan dy="-3" font-size="5.6">−2</tspan><tspan dy="3">)</tspan></text>
</g>
<g>
<path d="M207.90,459.4 L194.70,464.0 L207.90,468.59999999999997 Z" fill="#fbfafc"/>
<rect x="207.90" y="459.4" width="34.37" height="9.2" fill="#f7f4f9"/>
<rect x="241.97" y="459.4" width="34.37" height="9.2" fill="#e5dcec"/>
<rect x="276.04" y="459.4" width="34.37" height="9.2" fill="#d1afd5"/>
<rect x="310.11" y="459.4" width="34.37" height="9.2" fill="#d280bd"/>
<rect x="344.18" y="459.4" width="34.37" height="9.2" fill="#e3449b"/>
<rect x="378.25" y="459.4" width="34.37" height="9.2" fill="#d51965"/>
<rect x="412.32" y="459.4" width="34.37" height="9.2" fill="#a10346"/>
<rect x="446.39" y="459.4" width="34.37" height="9.2" fill="#67001f"/>
<path d="M480.46,459.4 L493.66,464.0 L480.46,468.59999999999997 Z" fill="#67001f"/>
<path d="M207.90,459.4 L480.46,459.4 L493.66,464.0 L480.46,468.59999999999997 L207.90,468.59999999999997 L194.70,464.0 Z" fill="none" stroke="#6e6e6e" stroke-width="0.6" stroke-linejoin="miter"/>
<line x1="207.90" y1="468.59999999999997" x2="207.90" y2="471.9" stroke="#444" stroke-width="0.6"/>
<text x="207.70" y="481.6" text-anchor="middle" class="tk">0</text>
<line x1="241.97" y1="468.59999999999997" x2="241.97" y2="471.9" stroke="#444" stroke-width="0.6"/>
<text x="241.77" y="481.6" text-anchor="middle" class="tk">5</text>
<line x1="276.04" y1="468.59999999999997" x2="276.04" y2="471.9" stroke="#444" stroke-width="0.6"/>
<text x="275.84" y="481.6" text-anchor="middle" class="tk">10</text>
<line x1="310.11" y1="468.59999999999997" x2="310.11" y2="471.9" stroke="#444" stroke-width="0.6"/>
<text x="309.91" y="481.6" text-anchor="middle" class="tk">15</text>
<line x1="344.18" y1="468.59999999999997" x2="344.18" y2="471.9" stroke="#444" stroke-width="0.6"/>
<text x="343.98" y="481.6" text-anchor="middle" class="tk">20</text>
<line x1="378.25" y1="468.59999999999997" x2="378.25" y2="471.9" stroke="#444" stroke-width="0.6"/>
<text x="378.05" y="481.6" text-anchor="middle" class="tk">25</text>
<line x1="412.32" y1="468.59999999999997" x2="412.32" y2="471.9" stroke="#444" stroke-width="0.6"/>
<text x="412.12" y="481.6" text-anchor="middle" class="tk">30</text>
<line x1="446.39" y1="468.59999999999997" x2="446.39" y2="471.9" stroke="#444" stroke-width="0.6"/>
<text x="446.19" y="481.6" text-anchor="middle" class="tk">35</text>
<line x1="480.46" y1="468.59999999999997" x2="480.46" y2="471.9" stroke="#444" stroke-width="0.6"/>
<text x="480.26" y="481.6" text-anchor="middle" class="tk">40</text>
<text x="345.1" y="495.8" text-anchor="middle" class="ct">Δ<tspan font-style="italic">Q</tspan><tspan dy="2.3" font-size="6.5">net</tspan><tspan dy="-2.3"> from CTRL (W m</tspan><tspan dy="-3" font-size="5.6">−2</tspan><tspan dy="3">)</tspan></text>
</g>
</svg>
</body></html>
